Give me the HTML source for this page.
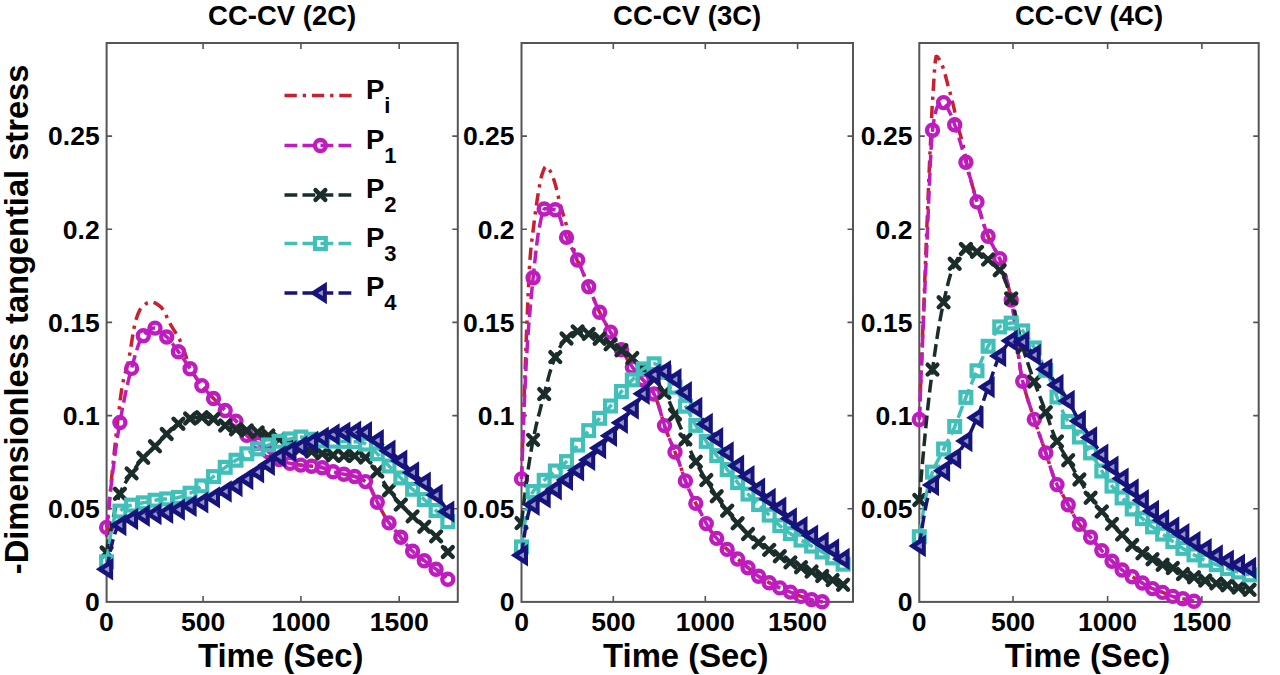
<!DOCTYPE html><html><head><meta charset="utf-8"><style>html,body{margin:0;padding:0;background:#fff;overflow:hidden}svg{display:block}text{font-family:"Liberation Sans",sans-serif;font-weight:bold;fill:#000}</style></head><body>
<svg width="1280" height="675" viewBox="0 0 1280 675">
<rect width="1280" height="675" fill="#fff"/>
<rect x="106.6" y="43" width="351.2" height="558.9" fill="none" stroke="#555" stroke-width="2"/>
<path d="M203.1 601.9v-6M203.1 43v6M300.9 601.9v-6M300.9 43v6M399.2 601.9v-6M399.2 43v6M106.6 508.8h5.5M457.8 508.8h-5.5M106.6 415.6h5.5M457.8 415.6h-5.5M106.6 322.4h5.5M457.8 322.4h-5.5M106.6 229.3h5.5M457.8 229.3h-5.5M106.6 136.1h5.5M457.8 136.1h-5.5" stroke="#555" stroke-width="1.6" fill="none"/>
<g><polyline points="106.6,536.7 107.6,523.5 108.7,510.7 109.7,498.5 110.8,487.1 111.8,476.2 112.9,465.6 113.9,455.5 115,445.7 116,436.2 117.1,427 118.1,417.9 119.2,408.8 120.2,399.9 121.3,392 122.3,385.4 123.4,380.3 124.4,376 125.4,372.3 126.5,368.7 127.5,364.9 128.6,360.4 129.6,354.8 130.7,348.5 131.7,341.7 132.8,335.1 133.8,328.9 134.9,323.8 135.9,320 137,316.8 138,314 139.1,311.5 140.1,309.5 141.2,307.9 142.2,306.9 143.3,305.9 144.3,305 145.3,304.2 146.4,303.5 147.4,302.9 148.5,302.5 149.5,302.1 150.6,302 151.6,302 152.7,302.1 153.7,302.4 154.8,302.9 155.8,303.4 156.9,304 157.9,304.7 159,305.5 160,306.3 161.1,307.1 162.1,308.4 163.1,309.9 164.2,311.7 165.2,313.7 166.3,315.8 167.3,318 168.4,320.2 169.4,322.3 170.5,324.3 171.5,326.2 172.6,327.9 173.6,329.6 174.7,331.3 175.7,332.9 176.8,334.6 177.8,336.3 178.9,338.2 179.9,340.2 180.9,342.5 182,344.9 183,347.6 184.1,350.5 185.1,353.6 186.2,356.9 187.2,360.3 188.3,363.9 189.3,367.5 190.6,369.4 191.9,371.4 193.2,373.4 194.5,375.3 195.8,377.3 197.1,379.2 198.4,381.1 199.7,382.9 201,384.6 202.3,386.2 203.6,387.7 204.8,389.2 206.1,390.6 207.4,392 208.7,393.4 210,394.8 211.3,396.1 212.6,397.5 213.9,398.9 215.2,400.2 216.5,401.6 217.8,402.9 219.1,404.3 220.4,405.6 221.7,406.9 223,408.2 224.2,409.6 225.5,410.9 226.8,412.1 228.1,413.4 229.4,414.6 230.7,415.8 232,417 233.3,418.3 234.6,419.6 235.9,420.9 237.2,422.4 238.5,424 239.8,425.7 241.1,427.6 242.3,429.5 243.6,431.4 244.9,433.2 246.2,434.8 247.5,436.1 248.8,437.3 250.1,438.3 251.4,439.2 252.7,440.1 254,440.9 255.3,441.7 256.6,442.6 257.9,443.4 259.2,444.3 260.5,445.3 261.7,446.3 263,447.3 264.3,448.4 265.6,449.4 266.9,450.5 268.2,451.5 269.5,452.5 270.8,453.5 272.1,454.5 273.4,455.4 274.7,456.4 276,457.3 277.3,458.3 278.6,459.2 279.9,460 281.1,460.8 282.4,461.4 283.7,461.9 285,462.2 286.3,462.6 287.6,462.9 288.9,463.1 290.2,463.4 291.5,463.6 292.8,463.8 294.1,464.1 295.4,464.3 296.7,464.5 298,464.7 299.3,464.9 300.5,465 301.8,465.2 303.1,465.4 304.4,465.5 305.7,465.7 307,465.8 308.3,465.9 309.6,466 310.9,466.1 312.2,466.2 313.5,466.3 314.8,466.4 316.1,466.6 317.4,466.7 318.6,466.8 319.9,467 321.2,467.3 322.5,467.7 323.8,468.2 325.1,468.7 326.4,469.3 327.7,469.9 329,470.3 330.3,470.8 331.6,471.2 332.9,471.6 334.2,472 335.5,472.3 336.8,472.7 338,473 339.3,473.3 340.6,473.6 341.9,473.9 343.2,474.1 344.5,474.3 345.8,474.6 347.1,474.8 348.4,475 349.7,475.3 351,475.5 352.3,475.8 353.6,476.2 354.9,476.5 356.2,476.9 357.4,477.4 358.7,477.9 360,478.4 361.3,479.1 362.6,479.8 363.9,480.5 365.2,481.4 366.5,482.3 367.8,483.6 369.1,485.4 370.4,487.6 371.7,490.2 373,493 374.3,495.8 375.6,498.6 376.8,501.3 378.1,503.8 379.4,506.2 380.7,508.7 382,511.2 383.3,513.7 384.6,516 385.9,518.2 387.2,520.3 388.5,522.1 389.8,523.9 391.1,525.6 392.4,527.2 393.7,528.7 394.9,530.3 396.2,531.8 397.5,533.3 398.8,534.9 400.1,536.5 401.4,538.1 402.7,539.7 404,541.4 405.3,543.1 406.6,544.7 407.9,546.2 409.2,547.7 410.5,549.2 411.8,550.5 413.1,551.7 414.3,552.9 415.6,554 416.9,555.1 418.2,556.1 419.5,557.1 420.8,558.1 422.1,559.1 423.4,560 424.7,561 426,562 427.3,562.9 428.6,563.9 429.9,564.8 431.2,565.6 432.5,566.5 433.7,567.5 435,568.4 436.3,569.4 437.6,570.4 438.9,571.4 440.2,572.5 441.5,573.6 442.8,574.7 444.1,575.9 445.4,577 446.7,578.2 457.8,587.9" fill="none" stroke="#c8202e" stroke-width="3.5" stroke-dasharray="12.3 5.9 3.3 5.9"/><polyline points="106.6,527.4 107.7,516.5 108.9,505.8 110,495.5 111.1,485.5 112.3,475.9 113.4,466.7 114.6,457.8 115.7,449.4 116.8,441.5 118,434 119.1,427.1 120.2,420.5 121.4,414.1 122.5,408 123.7,402.2 124.8,396.6 125.9,391.3 127.1,386.2 128.2,381.4 129.3,376.8 130.5,372.4 131.6,368.2 132.8,364 133.9,359.8 135,355.7 136.2,351.8 137.3,348.2 138.4,344.9 139.6,341.9 140.7,339.5 141.9,337.6 143,336.1 144.1,334.8 145.3,333.5 146.4,332.3 147.5,331.3 148.7,330.3 149.8,329.5 151,328.8 152.1,328.4 153.2,328.1 154.4,328.1 155.5,328.2 156.6,328.7 157.8,329.3 158.9,330 160.1,330.9 161.2,331.9 162.3,332.9 163.5,334 164.6,335 165.7,336.1 166.9,337.1 168,338.3 169.2,339.6 170.3,340.9 171.4,342.3 172.6,343.8 173.7,345.4 174.8,346.9 176,348.5 177.1,350 178.3,351.6 179.4,353.1 180.5,354.7 181.7,356.3 182.8,358 183.9,359.6 185.1,361.3 186.2,363 187.4,364.6 188.5,366.3 189.6,368 190.8,369.7 191.9,371.4 193,373.1 194.2,374.9 195.3,376.6 196.5,378.3 197.6,380 198.7,381.6 199.9,383.2 201,384.6 202.1,386 203.3,387.4 204.4,388.7 205.6,390 206.7,391.2 207.8,392.5 209,393.7 210.1,394.9 211.2,396.1 212.4,397.2 213.5,398.5 214.7,399.7 215.8,400.9 216.9,402.1 218.1,403.2 219.2,404.4 220.3,405.6 221.5,406.7 222.6,407.9 223.8,409.1 224.9,410.2 226,411.4 227.2,412.5 228.3,413.6 229.4,414.6 230.6,415.7 231.7,416.8 232.8,417.9 234,419 235.1,420.1 236.3,421.3 237.4,422.6 238.5,424 239.7,425.6 240.8,427.3 241.9,428.9 243.1,430.6 244.2,432.2 245.4,433.8 246.5,435.1 247.6,436.2 248.8,437.2 249.9,438.1 251,439 252.2,439.8 253.3,440.5 254.5,441.2 255.6,441.9 256.7,442.7 257.9,443.4 259,444.2 260.1,445.1 261.3,445.9 262.4,446.8 263.6,447.8 264.7,448.7 265.8,449.6 267,450.5 268.1,451.4 269.2,452.3 270.4,453.2 271.5,454.1 272.7,454.9 273.8,455.7 274.9,456.5 276.1,457.4 277.2,458.2 278.3,459 279.5,459.8 280.6,460.5 281.8,461.1 282.9,461.6 284,461.9 285.2,462.3 286.3,462.6 287.4,462.8 288.6,463.1 289.7,463.3 290.9,463.5 292,463.7 293.1,463.9 294.3,464.1 295.4,464.3 296.5,464.5 297.7,464.6 298.8,464.8 300,465 301.1,465.1 302.2,465.3 303.4,465.4 304.5,465.5 305.6,465.7 306.8,465.8 307.9,465.9 309.1,466 310.2,466.1 311.3,466.2 312.5,466.3 313.6,466.3 314.7,466.4 315.9,466.5 317,466.7 318.2,466.8 319.3,466.9 320.4,467.1 321.6,467.4 322.7,467.8 323.8,468.2 325,468.7 326.1,469.2 327.3,469.7 328.4,470.1 329.5,470.5 330.7,470.9 331.8,471.3 332.9,471.6 334.1,471.9 335.2,472.3 336.4,472.6 337.5,472.9 338.6,473.2 339.8,473.4 340.9,473.7 342,473.9 343.2,474.1 344.3,474.3 345.5,474.5 346.6,474.7 347.7,474.9 348.9,475.1 350,475.3 351.1,475.6 352.3,475.8 353.4,476.1 354.6,476.4 355.7,476.8 356.8,477.2 358,477.6 359.1,478 360.2,478.5 361.4,479.1 362.5,479.7 363.6,480.4 364.8,481.1 365.9,481.9 367.1,482.8 368.2,484.1 369.3,485.8 370.5,487.8 371.6,490.1 372.7,492.5 373.9,495 375,497.5 376.2,499.9 377.3,502.2 378.4,504.3 379.6,506.5 380.7,508.7 381.8,510.9 383,513.1 384.1,515.2 385.3,517.2 386.4,519 387.5,520.8 388.7,522.4 389.8,523.9 390.9,525.4 392.1,526.8 393.2,528.2 394.4,529.6 395.5,530.9 396.6,532.2 397.8,533.6 398.9,535 400,536.4 401.2,537.8 402.3,539.2 403.5,540.7 404.6,542.2 405.7,543.6 406.9,545 408,546.4 409.1,547.7 410.3,549 411.4,550.1 412.6,551.2 413.7,552.3 414.8,553.3 416,554.3 417.1,555.2 418.2,556.1 419.4,557 420.5,557.9 421.7,558.7 422.8,559.6 423.9,560.4 425.1,561.3 426.2,562.1 427.3,563 428.5,563.8 429.6,564.6 430.8,565.4 431.9,566.2 433,566.9 434.2,567.8 435.3,568.6 436.4,569.4 437.6,570.3 438.7,571.3 439.9,572.2 441,573.2 442.1,574.1 443.3,575.1 444.4,576.2 445.5,577.2 446.7,578.2" fill="none" stroke="#bf1cc0" stroke-width="3.5" stroke-dasharray="12.8 5.2"/><circle cx="106.6" cy="527.4" r="5.5" fill="none" stroke="#bf1cc0" stroke-width="4.4"/><circle cx="119.9" cy="422.6" r="5.5" fill="none" stroke="#bf1cc0" stroke-width="4.4"/><circle cx="131.6" cy="368.4" r="5.5" fill="none" stroke="#bf1cc0" stroke-width="4.4"/><circle cx="143.3" cy="335.8" r="5.5" fill="none" stroke="#bf1cc0" stroke-width="4.4"/><circle cx="155" cy="328.1" r="5.5" fill="none" stroke="#bf1cc0" stroke-width="4.4"/><circle cx="166.7" cy="337" r="5.5" fill="none" stroke="#bf1cc0" stroke-width="4.4"/><circle cx="178.4" cy="351.8" r="5.5" fill="none" stroke="#bf1cc0" stroke-width="4.4"/><circle cx="190.1" cy="368.7" r="5.5" fill="none" stroke="#bf1cc0" stroke-width="4.4"/><circle cx="201.8" cy="385.6" r="5.5" fill="none" stroke="#bf1cc0" stroke-width="4.4"/><circle cx="213.5" cy="398.5" r="5.5" fill="none" stroke="#bf1cc0" stroke-width="4.4"/><circle cx="225.2" cy="410.5" r="5.5" fill="none" stroke="#bf1cc0" stroke-width="4.4"/><circle cx="236" cy="421.1" r="5.5" fill="none" stroke="#bf1cc0" stroke-width="4.4"/><circle cx="246.8" cy="435.4" r="5.5" fill="none" stroke="#bf1cc0" stroke-width="4.4"/><circle cx="257.6" cy="443.2" r="5.5" fill="none" stroke="#bf1cc0" stroke-width="4.4"/><circle cx="268.4" cy="451.7" r="5.5" fill="none" stroke="#bf1cc0" stroke-width="4.4"/><circle cx="279.2" cy="459.6" r="5.5" fill="none" stroke="#bf1cc0" stroke-width="4.4"/><circle cx="290" cy="463.4" r="5.5" fill="none" stroke="#bf1cc0" stroke-width="4.4"/><circle cx="300.8" cy="465.1" r="5.5" fill="none" stroke="#bf1cc0" stroke-width="4.4"/><circle cx="311.6" cy="466.2" r="5.5" fill="none" stroke="#bf1cc0" stroke-width="4.4"/><circle cx="322.3" cy="467.7" r="5.5" fill="none" stroke="#bf1cc0" stroke-width="4.4"/><circle cx="333.1" cy="471.7" r="5.5" fill="none" stroke="#bf1cc0" stroke-width="4.4"/><circle cx="343.9" cy="474.2" r="5.5" fill="none" stroke="#bf1cc0" stroke-width="4.4"/><circle cx="354.7" cy="476.5" r="5.5" fill="none" stroke="#bf1cc0" stroke-width="4.4"/><circle cx="365.5" cy="481.6" r="5.5" fill="none" stroke="#bf1cc0" stroke-width="4.4"/><circle cx="377.3" cy="502.2" r="5.5" fill="none" stroke="#bf1cc0" stroke-width="4.4"/><circle cx="389" cy="522.9" r="5.5" fill="none" stroke="#bf1cc0" stroke-width="4.4"/><circle cx="400.8" cy="537.3" r="5.5" fill="none" stroke="#bf1cc0" stroke-width="4.4"/><circle cx="412.6" cy="551.3" r="5.5" fill="none" stroke="#bf1cc0" stroke-width="4.4"/><circle cx="424.3" cy="560.7" r="5.5" fill="none" stroke="#bf1cc0" stroke-width="4.4"/><circle cx="436.1" cy="569.2" r="5.5" fill="none" stroke="#bf1cc0" stroke-width="4.4"/><circle cx="447.8" cy="579.3" r="5.5" fill="none" stroke="#bf1cc0" stroke-width="4.4"/><polyline points="106.6,552.5 107.7,546 108.9,539.6 110,533.5 111.1,527.6 112.3,522 113.4,516.8 114.6,511.8 115.7,507.2 116.8,503 118,499.2 119.1,495.8 120.2,492.9 121.4,490.3 122.5,487.9 123.7,485.7 124.8,483.7 125.9,481.8 127.1,480 128.2,478.3 129.3,476.7 130.5,475 131.6,473.3 132.8,471.6 133.9,469.9 135,468.3 136.2,466.7 137.3,465.1 138.4,463.6 139.6,462.2 140.7,460.8 141.9,459.4 143,458.1 144.1,456.9 145.3,455.7 146.4,454.5 147.5,453.4 148.7,452.4 149.8,451.3 151,450.2 152.1,449.2 153.2,448.1 154.4,446.9 155.5,445.8 156.6,444.6 157.8,443.4 158.9,442.2 160.1,440.9 161.2,439.7 162.3,438.5 163.5,437.3 164.6,436.1 165.7,435 166.9,433.9 168,432.7 169.2,431.6 170.3,430.5 171.4,429.4 172.6,428.3 173.7,427.3 174.8,426.3 176,425.3 177.1,424.5 178.3,423.8 179.4,423.1 180.5,422.4 181.7,421.7 182.8,421.1 183.9,420.5 185.1,419.9 186.2,419.4 187.4,419.1 188.5,418.7 189.6,418.5 190.8,418.4 191.9,418.2 193,418 194.2,417.9 195.3,417.7 196.5,417.6 197.6,417.5 198.7,417.4 199.9,417.3 201,417.2 202.1,417.2 203.3,417.1 204.4,417.1 205.6,417.1 206.7,417.1 207.8,417.3 209,417.5 210.1,417.8 211.2,418.2 212.4,418.6 213.5,419 214.7,419.5 215.8,420 216.9,420.6 218.1,421.1 219.2,421.6 220.3,422.1 221.5,422.8 222.6,423.6 223.8,424.4 224.9,425.3 226,426.1 227.2,426.9 228.3,427.5 229.4,428.1 230.6,428.5 231.7,428.8 232.8,429 234,429.1 235.1,429.3 236.3,429.4 237.4,429.5 238.5,429.6 239.7,429.8 240.8,429.9 241.9,430 243.1,430.1 244.2,430.3 245.4,430.4 246.5,430.5 247.6,430.6 248.8,430.8 249.9,430.9 251,431.1 252.2,431.2 253.3,431.4 254.5,431.6 255.6,431.9 256.7,432.2 257.9,432.5 259,432.8 260.1,433.2 261.3,433.5 262.4,433.9 263.6,434.2 264.7,434.6 265.8,434.9 267,435.2 268.1,435.5 269.2,435.8 270.4,436.1 271.5,436.4 272.7,436.8 273.8,437.1 274.9,437.4 276.1,437.8 277.2,438.2 278.3,438.6 279.5,439.1 280.6,439.5 281.8,440 282.9,440.5 284,441 285.2,441.5 286.3,442 287.4,442.6 288.6,443.1 289.7,443.6 290.9,444 292,444.5 293.1,444.9 294.3,445.4 295.4,445.9 296.5,446.4 297.7,446.8 298.8,447.3 300,447.8 301.1,448.2 302.2,448.7 303.4,449.1 304.5,449.5 305.6,449.9 306.8,450.3 307.9,450.6 309.1,450.9 310.2,451.2 311.3,451.5 312.5,451.7 313.6,452 314.7,452.2 315.9,452.4 317,452.7 318.2,452.9 319.3,453.1 320.4,453.3 321.6,453.5 322.7,453.7 323.8,453.8 325,454 326.1,454.2 327.3,454.4 328.4,454.6 329.5,454.7 330.7,454.9 331.8,455.1 332.9,455.2 334.1,455.3 335.2,455.4 336.4,455.5 337.5,455.6 338.6,455.7 339.8,455.7 340.9,455.7 342,455.7 343.2,455.8 344.3,455.8 345.5,455.8 346.6,455.8 347.7,455.8 348.9,455.8 350,455.8 351.1,455.8 352.3,455.8 353.4,455.9 354.6,455.9 355.7,455.9 356.8,455.9 358,455.9 359.1,456 360.2,456 361.4,456.1 362.5,456.4 363.6,456.8 364.8,457.3 365.9,457.8 367.1,458.5 368.2,459.2 369.3,460 370.5,461.2 371.6,462.7 372.7,464.3 373.9,466.1 375,468 376.2,469.8 377.3,471.6 378.4,473.3 379.6,475.1 380.7,476.9 381.8,478.8 383,480.7 384.1,482.6 385.3,484.5 386.4,486.3 387.5,488 388.7,489.7 389.8,491.2 390.9,492.7 392.1,494.2 393.2,495.7 394.4,497.1 395.5,498.5 396.6,499.9 397.8,501.2 398.9,502.5 400,503.8 401.2,505 402.3,506.3 403.5,507.5 404.6,508.7 405.7,509.8 406.9,511 408,512.1 409.1,513.2 410.3,514.3 411.4,515.4 412.6,516.4 413.7,517.5 414.8,518.5 416,519.5 417.1,520.5 418.2,521.5 419.4,522.5 420.5,523.5 421.7,524.4 422.8,525.4 423.9,526.3 425.1,527.3 426.2,528.3 427.3,529.2 428.5,530.1 429.6,531 430.8,531.9 431.9,532.8 433,533.7 434.2,534.7 435.3,535.6 436.4,536.7 437.6,537.8 438.7,539 439.9,540.3 441,541.8 442.1,543.3 443.3,544.9 444.4,546.6 445.5,548.3 446.7,550.1" fill="none" stroke="#1a2d2b" stroke-width="3.5" stroke-dasharray="12.8 5.2"/><path d="M101.7 547.6l9.8 9.8M101.7 557.4l9.8 -9.8" stroke="#1a2d2b" stroke-width="4.4" stroke-linecap="round" fill="none"/><path d="M115 488.9l9.8 9.8M115 498.7l9.8 -9.8" stroke="#1a2d2b" stroke-width="4.4" stroke-linecap="round" fill="none"/><path d="M126.7 468.5l9.8 9.8M126.7 478.3l9.8 -9.8" stroke="#1a2d2b" stroke-width="4.4" stroke-linecap="round" fill="none"/><path d="M138.4 452.9l9.8 9.8M138.4 462.7l9.8 -9.8" stroke="#1a2d2b" stroke-width="4.4" stroke-linecap="round" fill="none"/><path d="M150.1 441.4l9.8 9.8M150.1 451.2l9.8 -9.8" stroke="#1a2d2b" stroke-width="4.4" stroke-linecap="round" fill="none"/><path d="M161.8 429.1l9.8 9.8M161.8 438.9l9.8 -9.8" stroke="#1a2d2b" stroke-width="4.4" stroke-linecap="round" fill="none"/><path d="M173.5 418.8l9.8 9.8M173.5 428.6l9.8 -9.8" stroke="#1a2d2b" stroke-width="4.4" stroke-linecap="round" fill="none"/><path d="M185.2 413.6l9.8 9.8M185.2 423.4l9.8 -9.8" stroke="#1a2d2b" stroke-width="4.4" stroke-linecap="round" fill="none"/><path d="M196.9 412.3l9.8 9.8M196.9 422.1l9.8 -9.8" stroke="#1a2d2b" stroke-width="4.4" stroke-linecap="round" fill="none"/><path d="M208.6 414.1l9.8 9.8M208.6 423.9l9.8 -9.8" stroke="#1a2d2b" stroke-width="4.4" stroke-linecap="round" fill="none"/><path d="M220.3 420.6l9.8 9.8M220.3 430.4l9.8 -9.8" stroke="#1a2d2b" stroke-width="4.4" stroke-linecap="round" fill="none"/><path d="M231.1 424.5l9.8 9.8M231.1 434.3l9.8 -9.8" stroke="#1a2d2b" stroke-width="4.4" stroke-linecap="round" fill="none"/><path d="M241.9 425.6l9.8 9.8M241.9 435.4l9.8 -9.8" stroke="#1a2d2b" stroke-width="4.4" stroke-linecap="round" fill="none"/><path d="M252.7 427.5l9.8 9.8M252.7 437.3l9.8 -9.8" stroke="#1a2d2b" stroke-width="4.4" stroke-linecap="round" fill="none"/><path d="M263.5 430.7l9.8 9.8M263.5 440.5l9.8 -9.8" stroke="#1a2d2b" stroke-width="4.4" stroke-linecap="round" fill="none"/><path d="M274.3 434.1l9.8 9.8M274.3 443.9l9.8 -9.8" stroke="#1a2d2b" stroke-width="4.4" stroke-linecap="round" fill="none"/><path d="M285.1 438.8l9.8 9.8M285.1 448.6l9.8 -9.8" stroke="#1a2d2b" stroke-width="4.4" stroke-linecap="round" fill="none"/><path d="M295.9 443.2l9.8 9.8M295.9 453l9.8 -9.8" stroke="#1a2d2b" stroke-width="4.4" stroke-linecap="round" fill="none"/><path d="M306.7 446.6l9.8 9.8M306.7 456.4l9.8 -9.8" stroke="#1a2d2b" stroke-width="4.4" stroke-linecap="round" fill="none"/><path d="M317.4 448.7l9.8 9.8M317.4 458.5l9.8 -9.8" stroke="#1a2d2b" stroke-width="4.4" stroke-linecap="round" fill="none"/><path d="M328.2 450.3l9.8 9.8M328.2 460.1l9.8 -9.8" stroke="#1a2d2b" stroke-width="4.4" stroke-linecap="round" fill="none"/><path d="M339 450.9l9.8 9.8M339 460.7l9.8 -9.8" stroke="#1a2d2b" stroke-width="4.4" stroke-linecap="round" fill="none"/><path d="M349.8 451l9.8 9.8M349.8 460.8l9.8 -9.8" stroke="#1a2d2b" stroke-width="4.4" stroke-linecap="round" fill="none"/><path d="M360.6 452.7l9.8 9.8M360.6 462.5l9.8 -9.8" stroke="#1a2d2b" stroke-width="4.4" stroke-linecap="round" fill="none"/><path d="M372.4 466.6l9.8 9.8M372.4 476.4l9.8 -9.8" stroke="#1a2d2b" stroke-width="4.4" stroke-linecap="round" fill="none"/><path d="M384.1 485.3l9.8 9.8M384.1 495.1l9.8 -9.8" stroke="#1a2d2b" stroke-width="4.4" stroke-linecap="round" fill="none"/><path d="M395.9 499.7l9.8 9.8M395.9 509.5l9.8 -9.8" stroke="#1a2d2b" stroke-width="4.4" stroke-linecap="round" fill="none"/><path d="M407.7 511.5l9.8 9.8M407.7 521.3l9.8 -9.8" stroke="#1a2d2b" stroke-width="4.4" stroke-linecap="round" fill="none"/><path d="M419.4 521.8l9.8 9.8M419.4 531.6l9.8 -9.8" stroke="#1a2d2b" stroke-width="4.4" stroke-linecap="round" fill="none"/><path d="M431.2 531.5l9.8 9.8M431.2 541.3l9.8 -9.8" stroke="#1a2d2b" stroke-width="4.4" stroke-linecap="round" fill="none"/><path d="M442.9 547.1l9.8 9.8M442.9 556.9l9.8 -9.8" stroke="#1a2d2b" stroke-width="4.4" stroke-linecap="round" fill="none"/><polyline points="106.6,561.8 107.7,554 108.9,546.2 110,538.8 111.1,532.1 112.3,526.1 113.4,521.3 114.6,517.8 115.7,515.8 116.8,514.3 118,513 119.1,511.8 120.2,510.8 121.4,509.8 122.5,509 123.7,508.3 124.8,507.6 125.9,507.1 127.1,506.6 128.2,506.1 129.3,505.7 130.5,505.4 131.6,505.1 132.8,504.8 133.9,504.5 135,504.3 136.2,504.1 137.3,503.9 138.4,503.7 139.6,503.5 140.7,503.3 141.9,503.1 143,502.8 144.1,502.6 145.3,502.4 146.4,502.1 147.5,501.9 148.7,501.6 149.8,501.3 151,501.1 152.1,500.8 153.2,500.6 154.4,500.4 155.5,500.2 156.6,500 157.8,499.8 158.9,499.6 160.1,499.5 161.2,499.4 162.3,499.3 163.5,499.2 164.6,499.1 165.7,499 166.9,498.9 168,498.8 169.2,498.7 170.3,498.6 171.4,498.5 172.6,498.4 173.7,498.2 174.8,498.1 176,497.9 177.1,497.7 178.3,497.4 179.4,497.1 180.5,496.8 181.7,496.4 182.8,496 183.9,495.6 185.1,495.2 186.2,494.8 187.4,494.3 188.5,493.9 189.6,493.4 190.8,492.9 191.9,492.3 193,491.7 194.2,491.1 195.3,490.3 196.5,489.6 197.6,488.8 198.7,488 199.9,487.2 201,486.4 202.1,485.6 203.3,484.8 204.4,484 205.6,483.1 206.7,482.2 207.8,481.3 209,480.4 210.1,479.5 211.2,478.5 212.4,477.5 213.5,476.6 214.7,475.6 215.8,474.7 216.9,473.7 218.1,472.8 219.2,471.9 220.3,471 221.5,470.1 222.6,469.3 223.8,468.4 224.9,467.6 226,466.8 227.2,465.9 228.3,465.1 229.4,464.3 230.6,463.6 231.7,462.8 232.8,462.1 234,461.4 235.1,460.7 236.3,460 237.4,459.4 238.5,458.7 239.7,458.1 240.8,457.4 241.9,456.8 243.1,456.1 244.2,455.4 245.4,454.7 246.5,454 247.6,453.4 248.8,452.7 249.9,452.1 251,451.5 252.2,451 253.3,450.5 254.5,450 255.6,449.6 256.7,449.2 257.9,448.8 259,448.4 260.1,448 261.3,447.6 262.4,447.2 263.6,446.8 264.7,446.4 265.8,446 267,445.5 268.1,445 269.2,444.6 270.4,444.1 271.5,443.7 272.7,443.3 273.8,442.9 274.9,442.5 276.1,442.2 277.2,441.8 278.3,441.5 279.5,441.3 280.6,441 281.8,440.7 282.9,440.5 284,440.2 285.2,440 286.3,439.7 287.4,439.5 288.6,439.2 289.7,439 290.9,438.7 292,438.4 293.1,438.1 294.3,437.8 295.4,437.5 296.5,437.3 297.7,437.2 298.8,437.1 300,437 301.1,437.1 302.2,437.2 303.4,437.3 304.5,437.5 305.6,437.7 306.8,438 307.9,438.3 309.1,438.6 310.2,438.9 311.3,439.2 312.5,439.5 313.6,439.7 314.7,440 315.9,440.2 317,440.4 318.2,440.6 319.3,440.7 320.4,440.8 321.6,440.8 322.7,440.9 323.8,440.9 325,441 326.1,441 327.3,441 328.4,441.1 329.5,441.1 330.7,441.1 331.8,441.1 332.9,441.2 334.1,441.2 335.2,441.2 336.4,441.2 337.5,441.3 338.6,441.3 339.8,441.3 340.9,441.4 342,441.4 343.2,441.4 344.3,441.5 345.5,441.5 346.6,441.5 347.7,441.5 348.9,441.6 350,441.6 351.1,441.6 352.3,441.7 353.4,441.7 354.6,441.7 355.7,441.8 356.8,441.8 358,441.9 359.1,442 360.2,442 361.4,442.2 362.5,442.5 363.6,443 364.8,443.6 365.9,444.3 367.1,445.2 368.2,446 369.3,447 370.5,447.9 371.6,448.8 372.7,449.7 373.9,450.7 375,451.6 376.2,452.7 377.3,453.8 378.4,455 379.6,456.2 380.7,457.4 381.8,458.6 383,459.9 384.1,461.1 385.3,462.2 386.4,463.4 387.5,464.5 388.7,465.7 389.8,466.8 390.9,468 392.1,469.2 393.2,470.3 394.4,471.5 395.5,472.6 396.6,473.8 397.8,474.9 398.9,476 400,477.2 401.2,478.3 402.3,479.5 403.5,480.6 404.6,481.7 405.7,482.9 406.9,484 408,485.1 409.1,486.2 410.3,487.2 411.4,488.3 412.6,489.3 413.7,490.3 414.8,491.3 416,492.3 417.1,493.3 418.2,494.2 419.4,495.2 420.5,496.2 421.7,497.2 422.8,498.2 423.9,499.3 425.1,500.3 426.2,501.3 427.3,502.4 428.5,503.4 429.6,504.5 430.8,505.6 431.9,506.6 433,507.7 434.2,508.7 435.3,509.8 436.4,510.9 437.6,511.9 438.7,513 439.9,514.1 441,515.1 442.1,516.2 443.3,517.3 444.4,518.3 445.5,519.4 446.7,520.5" fill="none" stroke="#40c0b8" stroke-width="3.5" stroke-dasharray="12.8 5.2"/><rect x="101.2" y="556.4" width="10.8" height="10.8" fill="none" stroke="#40c0b8" stroke-width="4.2"/><rect x="114.5" y="505.7" width="10.8" height="10.8" fill="none" stroke="#40c0b8" stroke-width="4.2"/><rect x="126.2" y="499.7" width="10.8" height="10.8" fill="none" stroke="#40c0b8" stroke-width="4.2"/><rect x="137.9" y="497.4" width="10.8" height="10.8" fill="none" stroke="#40c0b8" stroke-width="4.2"/><rect x="149.6" y="494.8" width="10.8" height="10.8" fill="none" stroke="#40c0b8" stroke-width="4.2"/><rect x="161.3" y="493.5" width="10.8" height="10.8" fill="none" stroke="#40c0b8" stroke-width="4.2"/><rect x="173" y="492" width="10.8" height="10.8" fill="none" stroke="#40c0b8" stroke-width="4.2"/><rect x="184.7" y="487.8" width="10.8" height="10.8" fill="none" stroke="#40c0b8" stroke-width="4.2"/><rect x="196.4" y="480.5" width="10.8" height="10.8" fill="none" stroke="#40c0b8" stroke-width="4.2"/><rect x="208.1" y="471.2" width="10.8" height="10.8" fill="none" stroke="#40c0b8" stroke-width="4.2"/><rect x="219.8" y="461.9" width="10.8" height="10.8" fill="none" stroke="#40c0b8" stroke-width="4.2"/><rect x="230.6" y="454.8" width="10.8" height="10.8" fill="none" stroke="#40c0b8" stroke-width="4.2"/><rect x="241.4" y="448.4" width="10.8" height="10.8" fill="none" stroke="#40c0b8" stroke-width="4.2"/><rect x="252.2" y="443.5" width="10.8" height="10.8" fill="none" stroke="#40c0b8" stroke-width="4.2"/><rect x="263" y="439.5" width="10.8" height="10.8" fill="none" stroke="#40c0b8" stroke-width="4.2"/><rect x="273.8" y="435.9" width="10.8" height="10.8" fill="none" stroke="#40c0b8" stroke-width="4.2"/><rect x="284.6" y="433.5" width="10.8" height="10.8" fill="none" stroke="#40c0b8" stroke-width="4.2"/><rect x="295.4" y="431.6" width="10.8" height="10.8" fill="none" stroke="#40c0b8" stroke-width="4.2"/><rect x="306.2" y="433.8" width="10.8" height="10.8" fill="none" stroke="#40c0b8" stroke-width="4.2"/><rect x="316.9" y="435.5" width="10.8" height="10.8" fill="none" stroke="#40c0b8" stroke-width="4.2"/><rect x="327.7" y="435.8" width="10.8" height="10.8" fill="none" stroke="#40c0b8" stroke-width="4.2"/><rect x="338.5" y="436" width="10.8" height="10.8" fill="none" stroke="#40c0b8" stroke-width="4.2"/><rect x="349.3" y="436.3" width="10.8" height="10.8" fill="none" stroke="#40c0b8" stroke-width="4.2"/><rect x="360.1" y="438.7" width="10.8" height="10.8" fill="none" stroke="#40c0b8" stroke-width="4.2"/><rect x="371.9" y="448.4" width="10.8" height="10.8" fill="none" stroke="#40c0b8" stroke-width="4.2"/><rect x="383.6" y="460.6" width="10.8" height="10.8" fill="none" stroke="#40c0b8" stroke-width="4.2"/><rect x="395.4" y="472.5" width="10.8" height="10.8" fill="none" stroke="#40c0b8" stroke-width="4.2"/><rect x="407.2" y="483.9" width="10.8" height="10.8" fill="none" stroke="#40c0b8" stroke-width="4.2"/><rect x="418.9" y="494.2" width="10.8" height="10.8" fill="none" stroke="#40c0b8" stroke-width="4.2"/><rect x="430.7" y="505.1" width="10.8" height="10.8" fill="none" stroke="#40c0b8" stroke-width="4.2"/><rect x="442.4" y="516.2" width="10.8" height="10.8" fill="none" stroke="#40c0b8" stroke-width="4.2"/><polyline points="106.6,569.3 107.7,563.6 108.9,558 110,552.6 111.1,547.4 112.3,542.6 113.4,538.2 114.6,534.4 115.7,531.1 116.8,528.6 118,526.8 119.1,525.7 120.2,524.8 121.4,523.9 122.5,523.1 123.7,522.4 124.8,521.8 125.9,521.2 127.1,520.7 128.2,520.3 129.3,519.8 130.5,519.4 131.6,519 132.8,518.6 133.9,518.3 135,517.9 136.2,517.5 137.3,517.2 138.4,516.9 139.6,516.5 140.7,516.3 141.9,516 143,515.7 144.1,515.5 145.3,515.3 146.4,515.1 147.5,514.9 148.7,514.7 149.8,514.6 151,514.5 152.1,514.3 153.2,514.2 154.4,514.1 155.5,514 156.6,513.8 157.8,513.7 158.9,513.6 160.1,513.5 161.2,513.3 162.3,513.2 163.5,513.1 164.6,513 165.7,512.9 166.9,512.8 168,512.6 169.2,512.5 170.3,512.3 171.4,512.1 172.6,511.8 173.7,511.5 174.8,511.1 176,510.7 177.1,510.2 178.3,509.7 179.4,509.2 180.5,508.7 181.7,508.2 182.8,507.8 183.9,507.4 185.1,507.1 186.2,506.8 187.4,506.5 188.5,506.2 189.6,506 190.8,505.7 191.9,505.5 193,505.2 194.2,504.9 195.3,504.6 196.5,504.2 197.6,503.9 198.7,503.5 199.9,503.1 201,502.7 202.1,502.3 203.3,501.8 204.4,501.4 205.6,500.9 206.7,500.4 207.8,500 209,499.5 210.1,499 211.2,498.5 212.4,497.9 213.5,497.4 214.7,496.8 215.8,496.3 216.9,495.7 218.1,495.1 219.2,494.5 220.3,494 221.5,493.4 222.6,492.8 223.8,492.2 224.9,491.7 226,491.1 227.2,490.6 228.3,490 229.4,489.4 230.6,488.9 231.7,488.3 232.8,487.7 234,487.2 235.1,486.5 236.3,485.9 237.4,485.3 238.5,484.6 239.7,483.9 240.8,483.1 241.9,482.4 243.1,481.6 244.2,480.8 245.4,480.1 246.5,479.3 247.6,478.6 248.8,477.8 249.9,477.1 251,476.4 252.2,475.7 253.3,474.9 254.5,474.2 255.6,473.5 256.7,472.7 257.9,472 259,471.3 260.1,470.5 261.3,469.8 262.4,469 263.6,468.2 264.7,467.5 265.8,466.6 267,465.8 268.1,464.9 269.2,464.1 270.4,463.2 271.5,462.3 272.7,461.4 273.8,460.5 274.9,459.6 276.1,458.7 277.2,457.9 278.3,457.1 279.5,456.3 280.6,455.6 281.8,455 282.9,454.4 284,453.8 285.2,453.2 286.3,452.7 287.4,452.2 288.6,451.7 289.7,451.2 290.9,450.7 292,450.2 293.1,449.8 294.3,449.3 295.4,448.9 296.5,448.4 297.7,448 298.8,447.5 300,447.1 301.1,446.6 302.2,446.1 303.4,445.6 304.5,445.1 305.6,444.6 306.8,444.1 307.9,443.5 309.1,443 310.2,442.5 311.3,442 312.5,441.4 313.6,440.9 314.7,440.4 315.9,440 317,439.5 318.2,439 319.3,438.6 320.4,438.2 321.6,437.8 322.7,437.5 323.8,437.1 325,436.7 326.1,436.4 327.3,436 328.4,435.7 329.5,435.4 330.7,435 331.8,434.7 332.9,434.4 334.1,434.2 335.2,433.9 336.4,433.7 337.5,433.5 338.6,433.3 339.8,433.2 340.9,433 342,432.8 343.2,432.7 344.3,432.5 345.5,432.4 346.6,432.3 347.7,432.2 348.9,432.1 350,432 351.1,431.9 352.3,431.8 353.4,431.8 354.6,431.8 355.7,431.8 356.8,431.8 358,431.9 359.1,431.9 360.2,431.9 361.4,432 362.5,432.1 363.6,432.1 364.8,432.2 365.9,432.3 367.1,432.4 368.2,432.7 369.3,433.3 370.5,434.1 371.6,435 372.7,436 373.9,437.1 375,438.2 376.2,439.3 377.3,440.3 378.4,441.2 379.6,442.2 380.7,443.2 381.8,444.2 383,445.2 384.1,446.3 385.3,447.3 386.4,448.3 387.5,449.4 388.7,450.4 389.8,451.3 390.9,452.3 392.1,453.2 393.2,454.2 394.4,455.1 395.5,456.1 396.6,457 397.8,458 398.9,459 400,460 401.2,461 402.3,462.1 403.5,463.2 404.6,464.4 405.7,465.5 406.9,466.7 408,467.9 409.1,469.1 410.3,470.2 411.4,471.4 412.6,472.5 413.7,473.5 414.8,474.5 416,475.5 417.1,476.5 418.2,477.4 419.4,478.4 420.5,479.3 421.7,480.3 422.8,481.2 423.9,482.2 425.1,483.3 426.2,484.4 427.3,485.5 428.5,486.6 429.6,487.8 430.8,488.9 431.9,490.2 433,491.4 434.2,492.7 435.3,494 436.4,495.3 437.6,496.7 438.7,498.1 439.9,499.6 441,501.2 442.1,502.8 443.3,504.4 444.4,506.1 445.5,507.9 446.7,509.7" fill="none" stroke="#16147c" stroke-width="3.5" stroke-dasharray="12.8 5.2"/><path d="M95.8 569.3L113.1 558.1L113.1 580.5Z" fill="#16147c"/><path d="M104.2 569.3L109.1 566.2L109.1 572.4Z" fill="#fff" fill-opacity="0.55"/><path d="M109.1 525.1L126.4 513.9L126.4 536.3Z" fill="#16147c"/><path d="M117.5 525.1L122.3 521.9L122.3 528.2Z" fill="#fff" fill-opacity="0.55"/><path d="M120.8 519L138.1 507.8L138.1 530.2Z" fill="#16147c"/><path d="M129.2 519L134 515.9L134 522.2Z" fill="#fff" fill-opacity="0.55"/><path d="M132.5 515.7L149.8 504.5L149.8 526.9Z" fill="#16147c"/><path d="M140.9 515.7L145.7 512.5L145.7 518.8Z" fill="#fff" fill-opacity="0.55"/><path d="M144.2 514L161.5 502.8L161.5 525.2Z" fill="#16147c"/><path d="M152.6 514L157.5 510.9L157.5 517.2Z" fill="#fff" fill-opacity="0.55"/><path d="M155.9 512.8L173.2 501.6L173.2 524Z" fill="#16147c"/><path d="M164.3 512.8L169.2 509.6L169.2 515.9Z" fill="#fff" fill-opacity="0.55"/><path d="M167.6 509.6L184.9 498.4L184.9 520.8Z" fill="#16147c"/><path d="M176 509.6L180.9 506.5L180.9 512.8Z" fill="#fff" fill-opacity="0.55"/><path d="M179.3 505.9L196.6 494.7L196.6 517.1Z" fill="#16147c"/><path d="M187.7 505.9L192.6 502.7L192.6 509Z" fill="#fff" fill-opacity="0.55"/><path d="M191 502.4L208.3 491.2L208.3 513.6Z" fill="#16147c"/><path d="M199.4 502.4L204.3 499.3L204.3 505.5Z" fill="#fff" fill-opacity="0.55"/><path d="M202.7 497.4L220 486.2L220 508.6Z" fill="#16147c"/><path d="M211.1 497.4L216 494.3L216 500.5Z" fill="#fff" fill-opacity="0.55"/><path d="M214.4 491.5L231.7 480.3L231.7 502.7Z" fill="#16147c"/><path d="M222.9 491.5L227.7 488.4L227.7 494.6Z" fill="#fff" fill-opacity="0.55"/><path d="M225.2 486.1L242.5 474.9L242.5 497.3Z" fill="#16147c"/><path d="M233.6 486.1L238.5 482.9L238.5 489.2Z" fill="#fff" fill-opacity="0.55"/><path d="M236 479.1L253.3 467.9L253.3 490.3Z" fill="#16147c"/><path d="M244.4 479.1L249.3 476L249.3 482.3Z" fill="#fff" fill-opacity="0.55"/><path d="M246.8 472.2L264.1 461L264.1 483.4Z" fill="#16147c"/><path d="M255.2 472.2L260.1 469L260.1 475.3Z" fill="#fff" fill-opacity="0.55"/><path d="M257.6 464.7L274.9 453.5L274.9 475.9Z" fill="#16147c"/><path d="M266 464.7L270.9 461.6L270.9 467.9Z" fill="#fff" fill-opacity="0.55"/><path d="M268.4 456.5L285.7 445.3L285.7 467.7Z" fill="#16147c"/><path d="M276.8 456.5L281.7 453.4L281.7 459.7Z" fill="#fff" fill-opacity="0.55"/><path d="M279.2 451.1L296.5 439.9L296.5 462.3Z" fill="#16147c"/><path d="M287.6 451.1L292.4 447.9L292.4 454.2Z" fill="#fff" fill-opacity="0.55"/><path d="M290 446.7L307.3 435.5L307.3 457.9Z" fill="#16147c"/><path d="M298.4 446.7L303.2 443.6L303.2 449.9Z" fill="#fff" fill-opacity="0.55"/><path d="M300.8 441.9L318.1 430.7L318.1 453.1Z" fill="#16147c"/><path d="M309.2 441.9L314 438.7L314 445Z" fill="#fff" fill-opacity="0.55"/><path d="M311.5 437.6L328.8 426.4L328.8 448.8Z" fill="#16147c"/><path d="M320 437.6L324.8 434.5L324.8 440.7Z" fill="#fff" fill-opacity="0.55"/><path d="M322.3 434.4L339.6 423.2L339.6 445.6Z" fill="#16147c"/><path d="M330.8 434.4L335.6 431.3L335.6 437.5Z" fill="#fff" fill-opacity="0.55"/><path d="M333.1 432.6L350.4 421.4L350.4 443.8Z" fill="#16147c"/><path d="M341.6 432.6L346.4 429.5L346.4 435.7Z" fill="#fff" fill-opacity="0.55"/><path d="M343.9 431.8L361.2 420.6L361.2 443Z" fill="#16147c"/><path d="M352.3 431.8L357.2 428.7L357.2 434.9Z" fill="#fff" fill-opacity="0.55"/><path d="M354.7 432.3L372 421.1L372 443.5Z" fill="#16147c"/><path d="M363.1 432.3L368 429.1L368 435.4Z" fill="#fff" fill-opacity="0.55"/><path d="M366.5 440.3L383.8 429.1L383.8 451.5Z" fill="#16147c"/><path d="M374.9 440.3L379.7 437.2L379.7 443.4Z" fill="#fff" fill-opacity="0.55"/><path d="M378.2 450.7L395.5 439.5L395.5 461.9Z" fill="#16147c"/><path d="M386.7 450.7L391.5 447.5L391.5 453.8Z" fill="#fff" fill-opacity="0.55"/><path d="M390 460.7L407.3 449.5L407.3 471.9Z" fill="#16147c"/><path d="M398.4 460.7L403.3 457.5L403.3 463.8Z" fill="#fff" fill-opacity="0.55"/><path d="M401.8 472.5L419.1 461.3L419.1 483.7Z" fill="#16147c"/><path d="M410.2 472.5L415 469.3L415 475.6Z" fill="#fff" fill-opacity="0.55"/><path d="M413.5 482.6L430.8 471.4L430.8 493.8Z" fill="#16147c"/><path d="M421.9 482.6L426.8 479.5L426.8 485.7Z" fill="#fff" fill-opacity="0.55"/><path d="M425.3 494.9L442.6 483.7L442.6 506.1Z" fill="#16147c"/><path d="M433.7 494.9L438.6 491.8L438.6 498Z" fill="#fff" fill-opacity="0.55"/><path d="M437 511.6L454.3 500.4L454.3 522.8Z" fill="#16147c"/><path d="M445.5 511.6L450.3 508.4L450.3 514.7Z" fill="#fff" fill-opacity="0.55"/></g>
<text x="106.4" y="631" font-size="26.5" text-anchor="middle">0</text>
<text x="203.1" y="631" font-size="26.5" text-anchor="middle">500</text>
<text x="300.9" y="631" font-size="26.5" text-anchor="middle">1000</text>
<text x="399.2" y="631" font-size="26.5" text-anchor="middle">1500</text>
<text x="99.7" y="611.2" font-size="26.5" text-anchor="end">0</text>
<text x="99.7" y="518" font-size="26.5" text-anchor="end">0.05</text>
<text x="99.7" y="424.9" font-size="26.5" text-anchor="end">0.1</text>
<text x="99.7" y="331.8" font-size="26.5" text-anchor="end">0.15</text>
<text x="99.7" y="238.6" font-size="26.5" text-anchor="end">0.2</text>
<text x="99.7" y="145.4" font-size="26.5" text-anchor="end">0.25</text>
<text x="282.2" y="24.5" font-size="27.5" text-anchor="middle">CC-CV (2C)</text>
<text x="280.7" y="667.3" font-size="34" text-anchor="middle" textLength="165.5" lengthAdjust="spacingAndGlyphs">Time (Sec)</text>
<rect x="521.5" y="43" width="331.5" height="558.9" fill="none" stroke="#555" stroke-width="2"/>
<path d="M613.3 601.9v-6M613.3 43v6M705.3 601.9v-6M705.3 43v6M797.6 601.9v-6M797.6 43v6M521.5 508.8h5.5M853 508.8h-5.5M521.5 415.6h5.5M853 415.6h-5.5M521.5 322.4h5.5M853 322.4h-5.5M521.5 229.3h5.5M853 229.3h-5.5M521.5 136.1h5.5M853 136.1h-5.5" stroke="#555" stroke-width="1.6" fill="none"/>
<g><polyline points="521.5,478.9 522.2,456 522.9,433.8 523.6,412.5 524.3,392.2 525,373 525.7,354.5 526.4,335.7 527.2,317.3 527.9,299.9 528.6,283.9 529.3,270.1 530,259 530.7,250.7 531.4,243.9 532.1,238.1 532.8,232.8 533.5,227.3 534.2,221.7 534.9,216.2 535.6,210.9 536.3,205.7 537,200.9 537.7,196.3 538.5,192 539.2,187.7 539.9,183.7 540.6,180 541.3,176.9 542,174.6 542.7,172.5 543.4,170.5 544.1,168.8 544.8,167.5 545.5,166.7 546.2,166.5 546.9,166.8 547.6,167.4 548.3,168.3 549,169.3 549.8,170.4 550.5,171.6 551.2,172.8 551.9,174.3 552.6,176.1 553.3,178.1 554,180.3 554.7,182.6 555.4,185 556.1,187.4 556.8,190.2 557.5,193.1 558.2,196.2 558.9,199.2 559.6,202.1 560.3,204.8 561.1,207.3 561.8,209.8 562.5,212.2 563.2,214.5 563.9,216.8 564.6,219.1 565.3,221.4 566,223.8 566.7,226.1 567.4,228.4 568.1,230.7 568.8,233 569.5,235.3 570.2,237.6 570.9,239.9 571.7,242.2 572.4,244.6 573.1,246.9 573.8,249.3 574.5,251.6 575.2,254 575.9,256.4 576.6,258.8 577.3,261.2 578.5,262.1 579.8,264.9 581,267.8 582.2,270.8 583.5,273.8 584.7,276.9 585.9,279.9 587.2,283 588.4,286 589.6,288.9 590.9,291.9 592.1,294.9 593.3,297.9 594.6,300.9 595.8,303.8 597,306.6 598.3,309.4 599.5,312 600.7,314.5 602,316.9 603.2,319.2 604.4,321.5 605.7,323.7 606.9,325.9 608.1,328 609.4,330.1 610.6,332.2 611.8,334.3 613.1,336.4 614.3,338.4 615.5,340.3 616.7,342.3 618,344.2 619.2,346.2 620.4,348.1 621.7,350.1 622.9,352.1 624.1,354.1 625.4,356.2 626.6,358.2 627.8,360.2 629.1,362.2 630.3,364.1 631.5,366 632.8,367.7 634,369.3 635.2,370.9 636.5,372.3 637.7,373.7 638.9,375.1 640.2,376.5 641.4,377.9 642.6,379.3 643.9,380.8 645.1,382.3 646.3,383.7 647.6,385.1 648.8,386.5 650,388 651.3,389.6 652.5,391.3 653.7,393.3 655,395.7 656.2,398.7 657.4,402.1 658.7,405.9 659.9,410 661.1,414.2 662.4,418.5 663.6,422.6 664.8,426.5 666.1,430.1 667.3,433.4 668.5,436.5 669.8,439.5 671,442.5 672.2,445.4 673.5,448.3 674.7,451.3 675.9,454.3 677.2,457.4 678.4,460.5 679.6,463.9 680.9,467.5 682.1,471.2 683.3,474.8 684.5,478.5 685.8,482 687,485.2 688.2,488.2 689.5,491 690.7,493.6 691.9,496.1 693.2,498.5 694.4,500.8 695.6,503.1 696.9,505.3 698.1,507.6 699.3,509.9 700.6,512.3 701.8,514.8 703,517.2 704.3,519.7 705.5,522.1 706.7,524.4 708,526.6 709.2,528.6 710.4,530.5 711.7,532.2 712.9,533.8 714.1,535.4 715.4,536.8 716.6,538.2 717.8,539.6 719.1,540.9 720.3,542.3 721.5,543.6 722.8,544.9 724,546.2 725.2,547.5 726.5,548.7 727.7,549.9 728.9,551.1 730.2,552.3 731.4,553.5 732.6,554.6 733.9,555.7 735.1,556.9 736.3,557.9 737.6,559 738.8,560 740,561.1 741.3,562.1 742.5,563.1 743.7,564.1 745,565.1 746.2,566.1 747.4,567.2 748.6,568.2 749.9,569.3 751.1,570.4 752.3,571.4 753.6,572.5 754.8,573.5 756,574.5 757.3,575.4 758.5,576.3 759.7,577.1 761,577.9 762.2,578.7 763.4,579.4 764.7,580.1 765.9,580.8 767.1,581.5 768.4,582.2 769.6,582.9 770.8,583.5 772.1,584.2 773.3,584.8 774.5,585.4 775.8,586 777,586.6 778.2,587.2 779.5,587.8 780.7,588.3 781.9,588.8 783.2,589.3 784.4,589.8 785.6,590.3 786.9,590.7 788.1,591.2 789.3,591.7 790.6,592.2 791.8,592.7 793,593.2 794.3,593.7 795.5,594.2 796.7,594.7 798,595.2 799.2,595.7 800.4,596.2 801.7,596.6 802.9,597 804.1,597.4 805.4,597.9 806.6,598.2 807.8,598.6 809.1,599 810.3,599.3 811.5,599.6 812.8,599.9 814,600.2 815.2,600.5 816.4,600.8 817.7,601 818.9,601.3 820.1,601.5 821.4,601.7 822.6,601.9" fill="none" stroke="#c8202e" stroke-width="3.5" stroke-dasharray="12.3 5.9 3.3 5.9"/><polyline points="521.5,478.9 522.5,450.9 523.5,424.3 524.5,399.8 525.5,377.7 526.5,358.5 527.5,342.5 528.5,328.3 529.6,315.4 530.6,303.8 531.6,293 532.6,282.9 533.6,273.2 534.6,263.6 535.6,254.3 536.6,245.5 537.6,237.8 538.6,231.3 539.6,226.1 540.6,221 541.6,216.4 542.6,212.5 543.7,209.8 544.7,208.8 545.7,208.8 546.7,208.8 547.7,208.9 548.7,209 549.7,209 550.7,209.1 551.7,209.3 552.7,209.4 553.7,209.6 554.7,209.7 555.7,209.9 556.7,210.6 557.8,212.1 558.8,214.4 559.8,217.2 560.8,220.3 561.8,223.7 562.8,227.1 563.8,230.4 564.8,233.4 565.8,235.9 566.8,238.1 567.8,240.3 568.8,242.4 569.8,244.4 570.8,246.4 571.9,248.4 572.9,250.4 573.9,252.3 574.9,254.3 575.9,256.4 576.9,258.5 577.9,260.7 578.9,262.9 579.9,265.2 580.9,267.6 581.9,270.1 582.9,272.5 583.9,275 584.9,277.5 586,280 587,282.5 588,284.9 589,287.3 590,289.7 591,292.2 592,294.6 593,297.1 594,299.5 595,302 596,304.3 597,306.7 598,308.9 599,311.1 600.1,313.1 601.1,315.2 602.1,317.1 603.1,319 604.1,320.9 605.1,322.7 606.1,324.5 607.1,326.2 608.1,328 609.1,329.7 610.1,331.4 611.1,333.2 612.1,334.8 613.1,336.5 614.1,338.2 615.2,339.8 616.2,341.4 617.2,343 618.2,344.6 619.2,346.1 620.2,347.7 621.2,349.3 622.2,350.9 623.2,352.6 624.2,354.2 625.2,355.9 626.2,357.6 627.2,359.2 628.2,360.9 629.3,362.5 630.3,364.1 631.3,365.6 632.3,367 633.3,368.4 634.3,369.7 635.3,370.9 636.3,372.1 637.3,373.3 638.3,374.4 639.3,375.6 640.3,376.7 641.3,377.8 642.3,379 643.4,380.2 644.4,381.4 645.4,382.6 646.4,383.7 647.4,384.9 648.4,386 649.4,387.2 650.4,388.4 651.4,389.8 652.4,391.2 653.4,392.8 654.4,394.6 655.4,396.8 656.4,399.3 657.5,402.2 658.5,405.3 659.5,408.6 660.5,412 661.5,415.5 662.5,418.9 663.5,422.3 664.5,425.5 665.5,428.6 666.5,431.3 667.5,434 668.5,436.5 669.5,439 670.5,441.4 671.6,443.8 672.6,446.2 673.6,448.6 674.6,451 675.6,453.4 676.6,455.9 677.6,458.5 678.6,461.1 679.6,463.9 680.6,466.8 681.6,469.8 682.6,472.8 683.6,475.8 684.6,478.7 685.7,481.6 686.7,484.3 687.7,486.9 688.7,489.2 689.7,491.4 690.7,493.6 691.7,495.6 692.7,497.6 693.7,499.5 694.7,501.4 695.7,503.2 696.7,505.1 697.7,506.9 698.7,508.8 699.8,510.7 700.8,512.7 701.8,514.7 702.8,516.7 703.8,518.7 704.8,520.7 705.8,522.7 706.8,524.5 707.8,526.3 708.8,528 709.8,529.6 710.8,531 711.8,532.4 712.8,533.7 713.8,535 714.9,536.2 715.9,537.4 716.9,538.5 717.9,539.7 718.9,540.8 719.9,541.8 720.9,542.9 721.9,544 722.9,545.1 723.9,546.1 724.9,547.2 725.9,548.2 726.9,549.2 727.9,550.2 729,551.2 730,552.1 731,553.1 732,554 733,555 734,555.9 735,556.8 736,557.7 737,558.5 738,559.4 739,560.2 740,561.1 741,561.9 742,562.7 743.1,563.6 744.1,564.4 745.1,565.2 746.1,566 747.1,566.9 748.1,567.7 749.1,568.6 750.1,569.5 751.1,570.4 752.1,571.2 753.1,572.1 754.1,572.9 755.1,573.7 756.1,574.5 757.2,575.3 758.2,576 759.2,576.7 760.2,577.4 761.2,578 762.2,578.6 763.2,579.3 764.2,579.8 765.2,580.4 766.2,581 767.2,581.6 768.2,582.1 769.2,582.7 770.2,583.2 771.3,583.7 772.3,584.3 773.3,584.8 774.3,585.3 775.3,585.8 776.3,586.3 777.3,586.8 778.3,587.2 779.3,587.7 780.3,588.1 781.3,588.6 782.3,589 783.3,589.4 784.3,589.8 785.4,590.2 786.4,590.5 787.4,590.9 788.4,591.3 789.4,591.7 790.4,592.1 791.4,592.5 792.4,592.9 793.4,593.3 794.4,593.8 795.4,594.2 796.4,594.6 797.4,595 798.4,595.4 799.5,595.8 800.5,596.2 801.5,596.5 802.5,596.9 803.5,597.2 804.5,597.6 805.5,597.9 806.5,598.2 807.5,598.5 808.5,598.8 809.5,599.1 810.5,599.4 811.5,599.6 812.5,599.9 813.5,600.1 814.6,600.3 815.6,600.6 816.6,600.8 817.6,601 818.6,601.2 819.6,601.4 820.6,601.6 821.6,601.7 822.6,601.9" fill="none" stroke="#bf1cc0" stroke-width="3.5" stroke-dasharray="12.8 5.2"/><circle cx="521.5" cy="478.9" r="5.5" fill="none" stroke="#bf1cc0" stroke-width="4.4"/><circle cx="533.1" cy="277.8" r="5.5" fill="none" stroke="#bf1cc0" stroke-width="4.4"/><circle cx="544.2" cy="209" r="5.5" fill="none" stroke="#bf1cc0" stroke-width="4.4"/><circle cx="555.3" cy="209.8" r="5.5" fill="none" stroke="#bf1cc0" stroke-width="4.4"/><circle cx="566.5" cy="237.4" r="5.5" fill="none" stroke="#bf1cc0" stroke-width="4.4"/><circle cx="577.6" cy="260" r="5.5" fill="none" stroke="#bf1cc0" stroke-width="4.4"/><circle cx="588.7" cy="286.7" r="5.5" fill="none" stroke="#bf1cc0" stroke-width="4.4"/><circle cx="599.6" cy="312.3" r="5.5" fill="none" stroke="#bf1cc0" stroke-width="4.4"/><circle cx="610.5" cy="332.1" r="5.5" fill="none" stroke="#bf1cc0" stroke-width="4.4"/><circle cx="621.4" cy="349.7" r="5.5" fill="none" stroke="#bf1cc0" stroke-width="4.4"/><circle cx="632.3" cy="367.1" r="5.5" fill="none" stroke="#bf1cc0" stroke-width="4.4"/><circle cx="643.2" cy="380" r="5.5" fill="none" stroke="#bf1cc0" stroke-width="4.4"/><circle cx="654.1" cy="394" r="5.5" fill="none" stroke="#bf1cc0" stroke-width="4.4"/><circle cx="664.5" cy="425.6" r="5.5" fill="none" stroke="#bf1cc0" stroke-width="4.4"/><circle cx="675" cy="452" r="5.5" fill="none" stroke="#bf1cc0" stroke-width="4.4"/><circle cx="685.4" cy="480.9" r="5.5" fill="none" stroke="#bf1cc0" stroke-width="4.4"/><circle cx="695.8" cy="503.4" r="5.5" fill="none" stroke="#bf1cc0" stroke-width="4.4"/><circle cx="706.3" cy="523.6" r="5.5" fill="none" stroke="#bf1cc0" stroke-width="4.4"/><circle cx="716.7" cy="538.4" r="5.5" fill="none" stroke="#bf1cc0" stroke-width="4.4"/><circle cx="727.2" cy="549.4" r="5.5" fill="none" stroke="#bf1cc0" stroke-width="4.4"/><circle cx="737.6" cy="559" r="5.5" fill="none" stroke="#bf1cc0" stroke-width="4.4"/><circle cx="748" cy="567.7" r="5.5" fill="none" stroke="#bf1cc0" stroke-width="4.4"/><circle cx="758.6" cy="576.3" r="5.5" fill="none" stroke="#bf1cc0" stroke-width="4.4"/><circle cx="769.2" cy="582.7" r="5.5" fill="none" stroke="#bf1cc0" stroke-width="4.4"/><circle cx="779.8" cy="587.9" r="5.5" fill="none" stroke="#bf1cc0" stroke-width="4.4"/><circle cx="790.4" cy="592.1" r="5.5" fill="none" stroke="#bf1cc0" stroke-width="4.4"/><circle cx="801" cy="596.4" r="5.5" fill="none" stroke="#bf1cc0" stroke-width="4.4"/><circle cx="811.6" cy="599.6" r="5.5" fill="none" stroke="#bf1cc0" stroke-width="4.4"/><circle cx="822.2" cy="601.8" r="5.5" fill="none" stroke="#bf1cc0" stroke-width="4.4"/><polyline points="521.5,523.1 522.6,513.7 523.6,504.6 524.7,495.8 525.8,487.2 526.9,479.1 527.9,471.2 529,463.8 530.1,456.9 531.2,450.4 532.2,444.4 533.3,438.8 534.4,433.6 535.5,428.7 536.5,424 537.6,419.5 538.7,415.3 539.8,411.1 540.8,407 541.9,403 543,398.9 544,394.8 545.1,390.6 546.2,386.4 547.3,382.2 548.3,378.1 549.4,374.1 550.5,370.4 551.6,367 552.6,363.9 553.7,361.1 554.8,358.4 555.9,355.9 556.9,353.4 558,351 559.1,348.8 560.1,346.8 561.2,344.9 562.3,343.3 563.4,341.9 564.4,340.6 565.5,339.5 566.6,338.3 567.7,337.2 568.7,336.2 569.8,335.2 570.9,334.3 572,333.5 573,332.8 574.1,332.2 575.2,331.7 576.3,331.5 577.3,331.4 578.4,331.4 579.5,331.5 580.5,331.7 581.6,331.9 582.7,332.1 583.8,332.4 584.8,332.7 585.9,333 587,333.3 588.1,333.7 589.1,334 590.2,334.4 591.3,334.7 592.4,335.1 593.4,335.6 594.5,336.1 595.6,336.6 596.7,337.1 597.7,337.7 598.8,338.3 599.9,338.9 600.9,339.5 602,340 603.1,340.6 604.2,341.2 605.2,341.7 606.3,342.2 607.4,342.8 608.5,343.3 609.5,343.8 610.6,344.3 611.7,344.9 612.8,345.4 613.8,346 614.9,346.6 616,347.1 617,347.7 618.1,348.4 619.2,349 620.3,349.6 621.3,350.3 622.4,350.9 623.5,351.6 624.6,352.3 625.6,353 626.7,353.8 627.8,354.5 628.9,355.3 629.9,356.1 631,357 632.1,357.9 633.2,358.8 634.2,359.8 635.3,360.8 636.4,361.9 637.4,363 638.5,364.1 639.6,365.2 640.7,366.3 641.7,367.4 642.8,368.4 643.9,369.5 645,370.5 646,371.5 647.1,372.5 648.2,373.4 649.3,374.4 650.3,375.4 651.4,376.5 652.5,377.6 653.6,378.7 654.6,379.8 655.7,381 656.8,382.3 657.8,383.5 658.9,384.8 660,386.2 661.1,387.6 662.1,389.1 663.2,390.7 664.3,392.3 665.4,394.1 666.4,396 667.5,398.1 668.6,400.2 669.7,402.5 670.7,404.8 671.8,407.2 672.9,409.6 673.9,412.1 675,414.6 676.1,417.1 677.2,419.5 678.2,422 679.3,424.5 680.4,427 681.5,429.6 682.5,432.3 683.6,435 684.7,437.6 685.8,440.2 686.8,442.8 687.9,445.2 689,447.5 690.1,449.9 691.1,452.1 692.2,454.4 693.3,456.6 694.3,458.8 695.4,460.9 696.5,463 697.6,465.1 698.6,467.1 699.7,469 700.8,471 701.9,472.8 702.9,474.7 704,476.4 705.1,478.2 706.2,479.9 707.2,481.6 708.3,483.3 709.4,485 710.5,486.6 711.5,488.3 712.6,490 713.7,491.7 714.7,493.3 715.8,495 716.9,496.6 718,498.2 719,499.8 720.1,501.4 721.2,502.9 722.3,504.4 723.3,505.8 724.4,507.2 725.5,508.6 726.6,510 727.6,511.3 728.7,512.6 729.8,513.9 730.8,515.2 731.9,516.5 733,517.8 734.1,519.1 735.1,520.4 736.2,521.7 737.3,523 738.4,524.2 739.4,525.5 740.5,526.7 741.6,527.9 742.7,529 743.7,530.1 744.8,531.2 745.9,532.2 747,533.2 748,534.1 749.1,535 750.2,535.9 751.2,536.8 752.3,537.7 753.4,538.5 754.5,539.4 755.5,540.2 756.6,541 757.7,541.9 758.8,542.7 759.8,543.4 760.9,544.2 762,545 763.1,545.8 764.1,546.5 765.2,547.2 766.3,548 767.4,548.7 768.4,549.4 769.5,550 770.6,550.7 771.6,551.4 772.7,552 773.8,552.7 774.9,553.3 775.9,554 777,554.6 778.1,555.2 779.2,555.9 780.2,556.5 781.3,557.2 782.4,557.8 783.5,558.5 784.5,559.1 785.6,559.7 786.7,560.4 787.7,561 788.8,561.6 789.9,562.1 791,562.7 792,563.2 793.1,563.8 794.2,564.3 795.3,564.7 796.3,565.2 797.4,565.7 798.5,566.2 799.6,566.6 800.6,567.1 801.7,567.5 802.8,568 803.9,568.4 804.9,568.9 806,569.3 807.1,569.8 808.1,570.2 809.2,570.6 810.3,571.1 811.4,571.5 812.4,571.9 813.5,572.4 814.6,572.8 815.7,573.2 816.7,573.7 817.8,574.1 818.9,574.6 820,575 821,575.5 822.1,575.9 823.2,576.4 824.3,576.8 825.3,577.3 826.4,577.7 827.5,578.1 828.5,578.5 829.6,578.9 830.7,579.3 831.8,579.7 832.8,580.1 833.9,580.5 835,581 836.1,581.4 837.1,581.8 838.2,582.3 839.3,582.8 840.4,583.3 841.4,583.8 842.5,584.4" fill="none" stroke="#1a2d2b" stroke-width="3.5" stroke-dasharray="12.8 5.2"/><path d="M516.6 518.2l9.8 9.8M516.6 528l9.8 -9.8" stroke="#1a2d2b" stroke-width="4.4" stroke-linecap="round" fill="none"/><path d="M528.2 435l9.8 9.8M528.2 444.8l9.8 -9.8" stroke="#1a2d2b" stroke-width="4.4" stroke-linecap="round" fill="none"/><path d="M539.3 389.2l9.8 9.8M539.3 399l9.8 -9.8" stroke="#1a2d2b" stroke-width="4.4" stroke-linecap="round" fill="none"/><path d="M550.4 352.2l9.8 9.8M550.4 362l9.8 -9.8" stroke="#1a2d2b" stroke-width="4.4" stroke-linecap="round" fill="none"/><path d="M561.6 333.6l9.8 9.8M561.6 343.4l9.8 -9.8" stroke="#1a2d2b" stroke-width="4.4" stroke-linecap="round" fill="none"/><path d="M572.7 326.5l9.8 9.8M572.7 336.3l9.8 -9.8" stroke="#1a2d2b" stroke-width="4.4" stroke-linecap="round" fill="none"/><path d="M583.8 329l9.8 9.8M583.8 338.8l9.8 -9.8" stroke="#1a2d2b" stroke-width="4.4" stroke-linecap="round" fill="none"/><path d="M594.7 333.8l9.8 9.8M594.7 343.6l9.8 -9.8" stroke="#1a2d2b" stroke-width="4.4" stroke-linecap="round" fill="none"/><path d="M605.6 339.4l9.8 9.8M605.6 349.2l9.8 -9.8" stroke="#1a2d2b" stroke-width="4.4" stroke-linecap="round" fill="none"/><path d="M616.5 345.4l9.8 9.8M616.5 355.2l9.8 -9.8" stroke="#1a2d2b" stroke-width="4.4" stroke-linecap="round" fill="none"/><path d="M627.4 353.2l9.8 9.8M627.4 363l9.8 -9.8" stroke="#1a2d2b" stroke-width="4.4" stroke-linecap="round" fill="none"/><path d="M638.3 363.9l9.8 9.8M638.3 373.7l9.8 -9.8" stroke="#1a2d2b" stroke-width="4.4" stroke-linecap="round" fill="none"/><path d="M649.2 374.4l9.8 9.8M649.2 384.2l9.8 -9.8" stroke="#1a2d2b" stroke-width="4.4" stroke-linecap="round" fill="none"/><path d="M659.6 387.8l9.8 9.8M659.6 397.6l9.8 -9.8" stroke="#1a2d2b" stroke-width="4.4" stroke-linecap="round" fill="none"/><path d="M670.1 409.6l9.8 9.8M670.1 419.4l9.8 -9.8" stroke="#1a2d2b" stroke-width="4.4" stroke-linecap="round" fill="none"/><path d="M680.5 434.5l9.8 9.8M680.5 444.3l9.8 -9.8" stroke="#1a2d2b" stroke-width="4.4" stroke-linecap="round" fill="none"/><path d="M690.9 456.8l9.8 9.8M690.9 466.6l9.8 -9.8" stroke="#1a2d2b" stroke-width="4.4" stroke-linecap="round" fill="none"/><path d="M701.4 475.2l9.8 9.8M701.4 485l9.8 -9.8" stroke="#1a2d2b" stroke-width="4.4" stroke-linecap="round" fill="none"/><path d="M711.8 491.4l9.8 9.8M711.8 501.2l9.8 -9.8" stroke="#1a2d2b" stroke-width="4.4" stroke-linecap="round" fill="none"/><path d="M722.3 505.8l9.8 9.8M722.3 515.6l9.8 -9.8" stroke="#1a2d2b" stroke-width="4.4" stroke-linecap="round" fill="none"/><path d="M732.7 518.4l9.8 9.8M732.7 528.2l9.8 -9.8" stroke="#1a2d2b" stroke-width="4.4" stroke-linecap="round" fill="none"/><path d="M743.1 529.2l9.8 9.8M743.1 539l9.8 -9.8" stroke="#1a2d2b" stroke-width="4.4" stroke-linecap="round" fill="none"/><path d="M753.7 537.7l9.8 9.8M753.7 547.5l9.8 -9.8" stroke="#1a2d2b" stroke-width="4.4" stroke-linecap="round" fill="none"/><path d="M764.3 545l9.8 9.8M764.3 554.8l9.8 -9.8" stroke="#1a2d2b" stroke-width="4.4" stroke-linecap="round" fill="none"/><path d="M774.9 551.4l9.8 9.8M774.9 561.2l9.8 -9.8" stroke="#1a2d2b" stroke-width="4.4" stroke-linecap="round" fill="none"/><path d="M785.5 557.5l9.8 9.8M785.5 567.3l9.8 -9.8" stroke="#1a2d2b" stroke-width="4.4" stroke-linecap="round" fill="none"/><path d="M796.1 562.3l9.8 9.8M796.1 572.1l9.8 -9.8" stroke="#1a2d2b" stroke-width="4.4" stroke-linecap="round" fill="none"/><path d="M806.7 566.7l9.8 9.8M806.7 576.5l9.8 -9.8" stroke="#1a2d2b" stroke-width="4.4" stroke-linecap="round" fill="none"/><path d="M817.3 571.1l9.8 9.8M817.3 580.9l9.8 -9.8" stroke="#1a2d2b" stroke-width="4.4" stroke-linecap="round" fill="none"/><path d="M827.7 575.2l9.8 9.8M827.7 585l9.8 -9.8" stroke="#1a2d2b" stroke-width="4.4" stroke-linecap="round" fill="none"/><path d="M838.2 579.8l9.8 9.8M838.2 589.6l9.8 -9.8" stroke="#1a2d2b" stroke-width="4.4" stroke-linecap="round" fill="none"/><polyline points="521.5,546.9 522.6,538.8 523.6,530.9 524.7,523.4 525.8,516.4 526.9,510.1 527.9,504.7 529,500.2 530.1,496.9 531.2,494.7 532.2,492.8 533.3,491.2 534.4,489.8 535.5,488.5 536.5,487.4 537.6,486.4 538.7,485.4 539.8,484.5 540.8,483.5 541.9,482.5 543,481.5 544,480.5 545.1,479.5 546.2,478.5 547.3,477.6 548.3,476.7 549.4,475.9 550.5,475 551.6,474.1 552.6,473.2 553.7,472.3 554.8,471.4 555.9,470.6 556.9,469.7 558,468.9 559.1,468.1 560.1,467.3 561.2,466.4 562.3,465.5 563.4,464.6 564.4,463.6 565.5,462.6 566.6,461.4 567.7,460.1 568.7,458.7 569.8,457.1 570.9,455.4 572,453.7 573,451.9 574.1,450.2 575.2,448.6 576.3,447 577.3,445.5 578.4,444 579.5,442.5 580.5,441.1 581.6,439.6 582.7,438.2 583.8,436.8 584.8,435.4 585.9,434.1 587,432.7 588.1,431.4 589.1,430.1 590.2,428.8 591.3,427.6 592.4,426.4 593.4,425.2 594.5,424 595.6,422.8 596.7,421.6 597.7,420.4 598.8,419.2 599.9,418 600.9,416.8 602,415.6 603.1,414.4 604.2,413.2 605.2,412 606.3,410.8 607.4,409.6 608.5,408.4 609.5,407.2 610.6,405.9 611.7,404.6 612.8,403.3 613.8,401.9 614.9,400.4 616,398.9 617,397.4 618.1,395.9 619.2,394.4 620.3,393 621.3,391.6 622.4,390.3 623.5,389 624.6,387.8 625.6,386.7 626.7,385.5 627.8,384.4 628.9,383.4 629.9,382.3 631,381.2 632.1,380.1 633.2,379 634.2,377.9 635.3,376.8 636.4,375.6 637.4,374.4 638.5,373.2 639.6,372 640.7,371 641.7,370 642.8,369.2 643.9,368.5 645,367.8 646,367.1 647.1,366.4 648.2,365.7 649.3,365.2 650.3,364.7 651.4,364.3 652.5,364 653.6,363.8 654.6,363.8 655.7,364.1 656.8,364.5 657.8,365.2 658.9,366 660,367 661.1,368.1 662.1,369.3 663.2,370.6 664.3,372 665.4,373.4 666.4,374.9 667.5,376.4 668.6,377.8 669.7,379.2 670.7,380.6 671.8,382.1 672.9,383.7 673.9,385.5 675,387.3 676.1,389.1 677.2,391.1 678.2,393 679.3,395 680.4,397 681.5,399 682.5,401 683.6,403 684.7,404.9 685.8,406.8 686.8,408.8 687.9,410.9 689,412.9 690.1,414.9 691.1,417 692.2,419 693.3,420.9 694.3,422.9 695.4,424.7 696.5,426.5 697.6,428.3 698.6,430 699.7,431.6 700.8,433.3 701.9,434.9 702.9,436.5 704,438.1 705.1,439.7 706.2,441.2 707.2,442.7 708.3,444.3 709.4,445.8 710.5,447.2 711.5,448.7 712.6,450.1 713.7,451.6 714.7,453 715.8,454.4 716.9,455.8 718,457.2 719,458.6 720.1,460 721.2,461.5 722.3,462.9 723.3,464.4 724.4,465.8 725.5,467.2 726.6,468.7 727.6,470.1 728.7,471.5 729.8,472.9 730.8,474.3 731.9,475.6 733,477 734.1,478.3 735.1,479.6 736.2,480.9 737.3,482.2 738.4,483.5 739.4,484.8 740.5,486 741.6,487.3 742.7,488.5 743.7,489.7 744.8,490.8 745.9,491.9 747,493 748,494.1 749.1,495.2 750.2,496.2 751.2,497.3 752.3,498.3 753.4,499.4 754.5,500.4 755.5,501.5 756.6,502.5 757.7,503.6 758.8,504.7 759.8,505.7 760.9,506.8 762,507.9 763.1,508.9 764.1,510 765.2,511.1 766.3,512.2 767.4,513.2 768.4,514.3 769.5,515.4 770.6,516.5 771.6,517.6 772.7,518.7 773.8,519.9 774.9,521 775.9,522.1 777,523.1 778.1,524.1 779.2,525.1 780.2,526.1 781.3,526.9 782.4,527.8 783.5,528.7 784.5,529.5 785.6,530.3 786.7,531 787.7,531.8 788.8,532.6 789.9,533.3 791,534 792,534.7 793.1,535.4 794.2,536.1 795.3,536.8 796.3,537.4 797.4,538.1 798.5,538.7 799.6,539.3 800.6,539.9 801.7,540.5 802.8,541.1 803.9,541.7 804.9,542.3 806,542.9 807.1,543.5 808.1,544.1 809.2,544.7 810.3,545.3 811.4,545.9 812.4,546.5 813.5,547.1 814.6,547.7 815.7,548.3 816.7,548.9 817.8,549.5 818.9,550.1 820,550.7 821,551.3 822.1,551.9 823.2,552.5 824.3,553.1 825.3,553.7 826.4,554.3 827.5,554.9 828.5,555.5 829.6,556.1 830.7,556.7 831.8,557.4 832.8,558 833.9,558.6 835,559.2 836.1,559.9 837.1,560.5 838.2,561.2 839.3,561.9 840.4,562.5 841.4,563.2 842.5,563.9" fill="none" stroke="#40c0b8" stroke-width="3.5" stroke-dasharray="12.8 5.2"/><rect x="516.1" y="541.5" width="10.8" height="10.8" fill="none" stroke="#40c0b8" stroke-width="4.2"/><rect x="527.7" y="486.1" width="10.8" height="10.8" fill="none" stroke="#40c0b8" stroke-width="4.2"/><rect x="538.8" y="474.9" width="10.8" height="10.8" fill="none" stroke="#40c0b8" stroke-width="4.2"/><rect x="549.9" y="465.6" width="10.8" height="10.8" fill="none" stroke="#40c0b8" stroke-width="4.2"/><rect x="561.1" y="456.2" width="10.8" height="10.8" fill="none" stroke="#40c0b8" stroke-width="4.2"/><rect x="572.2" y="439.7" width="10.8" height="10.8" fill="none" stroke="#40c0b8" stroke-width="4.2"/><rect x="583.3" y="425.2" width="10.8" height="10.8" fill="none" stroke="#40c0b8" stroke-width="4.2"/><rect x="594.2" y="412.9" width="10.8" height="10.8" fill="none" stroke="#40c0b8" stroke-width="4.2"/><rect x="605.1" y="400.6" width="10.8" height="10.8" fill="none" stroke="#40c0b8" stroke-width="4.2"/><rect x="616" y="386.1" width="10.8" height="10.8" fill="none" stroke="#40c0b8" stroke-width="4.2"/><rect x="626.9" y="374.5" width="10.8" height="10.8" fill="none" stroke="#40c0b8" stroke-width="4.2"/><rect x="637.8" y="363.5" width="10.8" height="10.8" fill="none" stroke="#40c0b8" stroke-width="4.2"/><rect x="648.7" y="358.4" width="10.8" height="10.8" fill="none" stroke="#40c0b8" stroke-width="4.2"/><rect x="659.1" y="366.9" width="10.8" height="10.8" fill="none" stroke="#40c0b8" stroke-width="4.2"/><rect x="669.6" y="381.8" width="10.8" height="10.8" fill="none" stroke="#40c0b8" stroke-width="4.2"/><rect x="680" y="400.8" width="10.8" height="10.8" fill="none" stroke="#40c0b8" stroke-width="4.2"/><rect x="690.4" y="420" width="10.8" height="10.8" fill="none" stroke="#40c0b8" stroke-width="4.2"/><rect x="700.9" y="436" width="10.8" height="10.8" fill="none" stroke="#40c0b8" stroke-width="4.2"/><rect x="711.3" y="450.2" width="10.8" height="10.8" fill="none" stroke="#40c0b8" stroke-width="4.2"/><rect x="721.8" y="464.1" width="10.8" height="10.8" fill="none" stroke="#40c0b8" stroke-width="4.2"/><rect x="732.2" y="477.2" width="10.8" height="10.8" fill="none" stroke="#40c0b8" stroke-width="4.2"/><rect x="742.6" y="488.7" width="10.8" height="10.8" fill="none" stroke="#40c0b8" stroke-width="4.2"/><rect x="753.2" y="499.1" width="10.8" height="10.8" fill="none" stroke="#40c0b8" stroke-width="4.2"/><rect x="763.8" y="509.7" width="10.8" height="10.8" fill="none" stroke="#40c0b8" stroke-width="4.2"/><rect x="774.4" y="520.3" width="10.8" height="10.8" fill="none" stroke="#40c0b8" stroke-width="4.2"/><rect x="785" y="528.2" width="10.8" height="10.8" fill="none" stroke="#40c0b8" stroke-width="4.2"/><rect x="795.6" y="534.7" width="10.8" height="10.8" fill="none" stroke="#40c0b8" stroke-width="4.2"/><rect x="806.2" y="540.7" width="10.8" height="10.8" fill="none" stroke="#40c0b8" stroke-width="4.2"/><rect x="816.8" y="546.6" width="10.8" height="10.8" fill="none" stroke="#40c0b8" stroke-width="4.2"/><rect x="827.2" y="552.5" width="10.8" height="10.8" fill="none" stroke="#40c0b8" stroke-width="4.2"/><rect x="837.7" y="558.8" width="10.8" height="10.8" fill="none" stroke="#40c0b8" stroke-width="4.2"/><polyline points="521.5,555.3 522.6,547.7 523.6,540.3 524.7,533.1 525.8,526.4 526.9,520.5 527.9,515.4 529,511.3 530.1,508.6 531.2,507 532.2,505.7 533.3,504.6 534.4,503.6 535.5,502.8 536.5,502.1 537.6,501.4 538.7,500.8 539.8,500.2 540.8,499.6 541.9,499 543,498.3 544,497.5 545.1,496.7 546.2,495.9 547.3,495.1 548.3,494.4 549.4,493.6 550.5,492.8 551.6,492 552.6,491.2 553.7,490.4 554.8,489.6 555.9,488.8 556.9,488 558,487.1 559.1,486.3 560.1,485.4 561.2,484.5 562.3,483.6 563.4,482.6 564.4,481.7 565.5,480.8 566.6,479.8 567.7,478.9 568.7,478 569.8,477 570.9,476.1 572,475.2 573,474.3 574.1,473.4 575.2,472.5 576.3,471.5 577.3,470.6 578.4,469.7 579.5,468.7 580.5,467.7 581.6,466.8 582.7,465.8 583.8,464.7 584.8,463.7 585.9,462.7 587,461.6 588.1,460.5 589.1,459.4 590.2,458.4 591.3,457.2 592.4,456.1 593.4,455 594.5,453.8 595.6,452.7 596.7,451.5 597.7,450.3 598.8,449 599.9,447.8 600.9,446.5 602,445.3 603.1,444.1 604.2,442.8 605.2,441.6 606.3,440.4 607.4,439.2 608.5,438 609.5,436.8 610.6,435.6 611.7,434.4 612.8,433.2 613.8,432 614.9,430.7 616,429.5 617,428.2 618.1,426.9 619.2,425.6 620.3,424.2 621.3,422.8 622.4,421.4 623.5,420 624.6,418.6 625.6,417.2 626.7,415.7 627.8,414.3 628.9,412.9 629.9,411.5 631,410.2 632.1,408.9 633.2,407.5 634.2,406.2 635.3,404.9 636.4,403.5 637.4,402.2 638.5,400.8 639.6,399.3 640.7,397.8 641.7,396.2 642.8,394.4 643.9,392.6 645,390.6 646,388.7 647.1,386.7 648.2,384.8 649.3,383 650.3,381.3 651.4,379.5 652.5,377.6 653.6,375.7 654.6,373.9 655.7,372.3 656.8,371 657.8,370.2 658.9,370 660,370 661.1,370.2 662.1,370.5 663.2,370.8 664.3,371.1 665.4,371.5 666.4,372 667.5,372.4 668.6,373 669.7,373.8 670.7,374.7 671.8,375.7 672.9,376.8 673.9,378 675,379.3 676.1,380.6 677.2,381.9 678.2,383.2 679.3,384.5 680.4,385.8 681.5,387.1 682.5,388.5 683.6,389.9 684.7,391.3 685.8,392.8 686.8,394.4 687.9,395.9 689,397.5 690.1,399.1 691.1,400.7 692.2,402.2 693.3,403.9 694.3,405.5 695.4,407.3 696.5,409 697.6,410.7 698.6,412.5 699.7,414.2 700.8,415.9 701.9,417.6 702.9,419.2 704,420.8 705.1,422.3 706.2,423.9 707.2,425.4 708.3,426.9 709.4,428.4 710.5,429.9 711.5,431.4 712.6,432.8 713.7,434.3 714.7,435.7 715.8,437.1 716.9,438.5 718,439.9 719,441.3 720.1,442.7 721.2,444.1 722.3,445.6 723.3,447 724.4,448.5 725.5,450 726.6,451.5 727.6,453.1 728.7,454.7 729.8,456.3 730.8,457.8 731.9,459.3 733,460.7 734.1,462 735.1,463.2 736.2,464.4 737.3,465.5 738.4,466.5 739.4,467.5 740.5,468.5 741.6,469.5 742.7,470.5 743.7,471.6 744.8,472.6 745.9,473.8 747,475 748,476.2 749.1,477.5 750.2,478.8 751.2,480.2 752.3,481.5 753.4,482.8 754.5,484.1 755.5,485.4 756.6,486.6 757.7,487.7 758.8,488.8 759.8,490 760.9,491 762,492.1 763.1,493.2 764.1,494.2 765.2,495.3 766.3,496.3 767.4,497.3 768.4,498.3 769.5,499.2 770.6,500.1 771.6,501 772.7,501.9 773.8,502.8 774.9,503.6 775.9,504.5 777,505.4 778.1,506.3 779.2,507.2 780.2,508.2 781.3,509.2 782.4,510.3 783.5,511.4 784.5,512.5 785.6,513.6 786.7,514.8 787.7,515.9 788.8,517 789.9,518 791,518.9 792,519.9 793.1,520.8 794.2,521.7 795.3,522.5 796.3,523.4 797.4,524.2 798.5,525.1 799.6,525.9 800.6,526.8 801.7,527.6 802.8,528.5 803.9,529.4 804.9,530.2 806,531.1 807.1,532 808.1,532.9 809.2,533.8 810.3,534.6 811.4,535.4 812.4,536.2 813.5,537 814.6,537.8 815.7,538.5 816.7,539.2 817.8,539.9 818.9,540.6 820,541.3 821,542 822.1,542.7 823.2,543.4 824.3,544.1 825.3,544.8 826.4,545.5 827.5,546.2 828.5,546.9 829.6,547.5 830.7,548.2 831.8,548.9 832.8,549.6 833.9,550.4 835,551.2 836.1,552 837.1,552.9 838.2,553.9 839.3,554.9 840.4,556 841.4,557.1 842.5,558.3" fill="none" stroke="#16147c" stroke-width="3.5" stroke-dasharray="12.8 5.2"/><path d="M510.7 555.3L528 544.1L528 566.5Z" fill="#16147c"/><path d="M519.1 555.3L524 552.2L524 558.5Z" fill="#fff" fill-opacity="0.55"/><path d="M522.3 504.8L539.6 493.6L539.6 516Z" fill="#16147c"/><path d="M530.7 504.8L535.6 501.6L535.6 507.9Z" fill="#fff" fill-opacity="0.55"/><path d="M533.4 497.4L550.7 486.2L550.7 508.6Z" fill="#16147c"/><path d="M541.9 497.4L546.7 494.2L546.7 500.5Z" fill="#fff" fill-opacity="0.55"/><path d="M544.5 489.2L561.8 478L561.8 500.4Z" fill="#16147c"/><path d="M553 489.2L557.8 486.1L557.8 492.4Z" fill="#fff" fill-opacity="0.55"/><path d="M555.7 479.9L573 468.7L573 491.1Z" fill="#16147c"/><path d="M564.1 479.9L568.9 476.8L568.9 483.1Z" fill="#fff" fill-opacity="0.55"/><path d="M566.8 470.4L584.1 459.2L584.1 481.6Z" fill="#16147c"/><path d="M575.2 470.4L580.1 467.2L580.1 473.5Z" fill="#fff" fill-opacity="0.55"/><path d="M577.9 459.9L595.2 448.7L595.2 471.1Z" fill="#16147c"/><path d="M586.3 459.9L591.2 456.7L591.2 463Z" fill="#fff" fill-opacity="0.55"/><path d="M588.8 448.1L606.1 436.9L606.1 459.3Z" fill="#16147c"/><path d="M597.2 448.1L602.1 444.9L602.1 451.2Z" fill="#fff" fill-opacity="0.55"/><path d="M599.7 435.7L617 424.5L617 446.9Z" fill="#16147c"/><path d="M608.1 435.7L613 432.5L613 438.8Z" fill="#fff" fill-opacity="0.55"/><path d="M610.6 422.7L627.9 411.5L627.9 433.9Z" fill="#16147c"/><path d="M619 422.7L623.9 419.6L623.9 425.9Z" fill="#fff" fill-opacity="0.55"/><path d="M621.5 408.6L638.8 397.4L638.8 419.8Z" fill="#16147c"/><path d="M629.9 408.6L634.8 405.4L634.8 411.7Z" fill="#fff" fill-opacity="0.55"/><path d="M632.4 393.8L649.7 382.6L649.7 405Z" fill="#16147c"/><path d="M640.8 393.8L645.7 390.6L645.7 396.9Z" fill="#fff" fill-opacity="0.55"/><path d="M643.3 374.8L660.6 363.6L660.6 386Z" fill="#16147c"/><path d="M651.7 374.8L656.6 371.6L656.6 377.9Z" fill="#fff" fill-opacity="0.55"/><path d="M653.7 371.2L671 360L671 382.4Z" fill="#16147c"/><path d="M662.2 371.2L667 368.1L667 374.4Z" fill="#fff" fill-opacity="0.55"/><path d="M664.2 379.2L681.5 368L681.5 390.4Z" fill="#16147c"/><path d="M672.6 379.2L677.4 376.1L677.4 382.4Z" fill="#fff" fill-opacity="0.55"/><path d="M674.6 392.3L691.9 381.1L691.9 403.5Z" fill="#16147c"/><path d="M683 392.3L687.9 389.2L687.9 395.5Z" fill="#fff" fill-opacity="0.55"/><path d="M685 407.9L702.3 396.7L702.3 419.1Z" fill="#16147c"/><path d="M693.5 407.9L698.3 404.8L698.3 411.1Z" fill="#fff" fill-opacity="0.55"/><path d="M695.5 424L712.8 412.8L712.8 435.2Z" fill="#16147c"/><path d="M703.9 424L708.7 420.9L708.7 427.2Z" fill="#fff" fill-opacity="0.55"/><path d="M705.9 438.3L723.2 427.1L723.2 449.5Z" fill="#16147c"/><path d="M714.3 438.3L719.2 435.2L719.2 441.5Z" fill="#fff" fill-opacity="0.55"/><path d="M716.4 452.4L733.7 441.2L733.7 463.6Z" fill="#16147c"/><path d="M724.8 452.4L729.6 449.3L729.6 455.5Z" fill="#fff" fill-opacity="0.55"/><path d="M726.8 465.8L744.1 454.6L744.1 477Z" fill="#16147c"/><path d="M735.2 465.8L740.1 462.6L740.1 468.9Z" fill="#fff" fill-opacity="0.55"/><path d="M737.2 476.2L754.5 465L754.5 487.4Z" fill="#16147c"/><path d="M745.6 476.2L750.5 473.1L750.5 479.3Z" fill="#fff" fill-opacity="0.55"/><path d="M747.8 488.7L765.1 477.5L765.1 499.9Z" fill="#16147c"/><path d="M756.3 488.7L761.1 485.6L761.1 491.8Z" fill="#fff" fill-opacity="0.55"/><path d="M758.4 499L775.7 487.8L775.7 510.2Z" fill="#16147c"/><path d="M766.9 499L771.7 495.8L771.7 502.1Z" fill="#fff" fill-opacity="0.55"/><path d="M769 507.8L786.3 496.6L786.3 519Z" fill="#16147c"/><path d="M777.5 507.8L782.3 504.7L782.3 510.9Z" fill="#fff" fill-opacity="0.55"/><path d="M779.6 518.5L796.9 507.3L796.9 529.7Z" fill="#16147c"/><path d="M788.1 518.5L792.9 515.3L792.9 521.6Z" fill="#fff" fill-opacity="0.55"/><path d="M790.2 527.1L807.5 515.9L807.5 538.3Z" fill="#16147c"/><path d="M798.7 527.1L803.5 523.9L803.5 530.2Z" fill="#fff" fill-opacity="0.55"/><path d="M800.8 535.6L818.1 524.4L818.1 546.8Z" fill="#16147c"/><path d="M809.3 535.6L814.1 532.5L814.1 538.8Z" fill="#fff" fill-opacity="0.55"/><path d="M811.4 542.8L828.7 531.6L828.7 554Z" fill="#16147c"/><path d="M819.9 542.8L824.7 539.7L824.7 545.9Z" fill="#fff" fill-opacity="0.55"/><path d="M821.8 549.5L839.1 538.3L839.1 560.7Z" fill="#16147c"/><path d="M830.3 549.5L835.1 546.4L835.1 552.6Z" fill="#fff" fill-opacity="0.55"/><path d="M832.3 558.9L849.6 547.7L849.6 570.1Z" fill="#16147c"/><path d="M840.7 558.9L845.5 555.8L845.5 562Z" fill="#fff" fill-opacity="0.55"/></g>
<text x="521.5" y="631" font-size="26.5" text-anchor="middle">0</text>
<text x="613.3" y="631" font-size="26.5" text-anchor="middle">500</text>
<text x="705.3" y="631" font-size="26.5" text-anchor="middle">1000</text>
<text x="797.6" y="631" font-size="26.5" text-anchor="middle">1500</text>
<text x="514.6" y="611.2" font-size="26.5" text-anchor="end">0</text>
<text x="514.6" y="518" font-size="26.5" text-anchor="end">0.05</text>
<text x="514.6" y="424.9" font-size="26.5" text-anchor="end">0.1</text>
<text x="514.6" y="331.8" font-size="26.5" text-anchor="end">0.15</text>
<text x="514.6" y="238.6" font-size="26.5" text-anchor="end">0.2</text>
<text x="514.6" y="145.4" font-size="26.5" text-anchor="end">0.25</text>
<text x="687.2" y="24.5" font-size="27.5" text-anchor="middle">CC-CV (3C)</text>
<text x="685.8" y="667.3" font-size="34" text-anchor="middle" textLength="165.5" lengthAdjust="spacingAndGlyphs">Time (Sec)</text>
<rect x="919.3" y="43" width="339.4" height="558.9" fill="none" stroke="#555" stroke-width="2"/>
<path d="M1013 601.9v-6M1013 43v6M1107.6 601.9v-6M1107.6 43v6M1201.9 601.9v-6M1201.9 43v6M919.3 508.8h5.5M1258.7 508.8h-5.5M919.3 415.6h5.5M1258.7 415.6h-5.5M919.3 322.4h5.5M1258.7 322.4h-5.5M919.3 229.3h5.5M1258.7 229.3h-5.5M919.3 136.1h5.5M1258.7 136.1h-5.5" stroke="#555" stroke-width="1.6" fill="none"/>
<g><polyline points="919.3,419.3 919.9,403.3 920.5,387.4 921.2,371.5 921.8,355.7 922.4,340 923,324.3 923.6,308.7 924.3,293.2 924.9,277.7 925.5,262.1 926.1,246.4 926.7,230.7 927.4,215.1 928,199.8 928.6,184.8 929.2,170.3 929.8,156.4 930.5,142.5 931.1,128.7 931.7,115.7 932.3,104 933,94 933.6,84.5 934.2,74.9 934.8,66.5 935.4,60 936.1,56.7 936.7,56.5 937.3,56.8 937.9,57.4 938.5,58.3 939.2,59.3 939.8,60.4 940.4,61.7 941,63 941.6,64.3 942.3,65.7 942.9,67.2 943.5,69 944.1,71 944.7,73.1 945.4,75.4 946,77.7 946.6,80.1 947.2,82.4 947.8,84.7 948.5,86.9 949.1,89.1 949.7,91.3 950.3,93.6 950.9,95.9 951.6,98.3 952.2,100.7 952.8,103.2 953.4,105.9 954.1,108.7 954.7,111.5 955.3,114.4 955.9,117.2 956.5,120.1 957.2,122.8 957.8,125.5 958.4,128 959,130.4 959.6,132.6 960.3,134.8 960.9,136.9 961.5,139 962.1,141.2 962.7,143.6 963.4,146.1 964,148.9 964.6,151.8 965.2,154.9 965.8,158.2 966.5,161.6 967.1,165.1 967.7,168.7 968.3,172.5 969.5,175.1 970.6,179.2 971.7,183.4 972.9,187.5 974,191.5 975.1,195.5 976.3,199.4 977.4,203.2 978.5,207.1 979.7,210.9 980.8,214.7 981.9,218.5 983.1,222.1 984.2,225.6 985.3,229 986.5,232.1 987.6,235 988.7,237.7 989.9,240.1 991,242.4 992.1,244.5 993.3,246.6 994.4,248.6 995.5,250.6 996.7,252.7 997.8,254.8 998.9,257.1 1000.1,259.6 1001.2,262.3 1002.3,265.2 1003.5,268.5 1004.6,272.1 1005.8,276.1 1006.9,280.4 1008,285 1009.2,290.1 1010.3,295.4 1011.4,301.1 1012.6,307.1 1013.7,314.2 1014.8,323 1016,332.9 1017.1,343.2 1018.2,353.2 1019.4,362.5 1020.5,370.3 1021.6,376.2 1022.8,381.3 1023.9,386 1025,390.3 1026.2,394.2 1027.3,398 1028.4,401.5 1029.6,405 1030.7,408.4 1031.8,411.8 1033,415.3 1034.1,418.8 1035.2,422.3 1036.4,425.7 1037.5,429.1 1038.6,432.3 1039.8,435.6 1040.9,438.8 1042,442 1043.2,445.2 1044.3,448.5 1045.4,451.8 1046.6,455.2 1047.7,458.7 1048.9,462.3 1050,465.9 1051.1,469.5 1052.3,472.9 1053.4,476.1 1054.5,479 1055.7,481.7 1056.8,484.1 1057.9,486.4 1059.1,488.5 1060.2,490.6 1061.3,492.6 1062.5,494.5 1063.6,496.5 1064.7,498.4 1065.9,500.4 1067,502.5 1068.1,504.6 1069.3,506.8 1070.4,509 1071.5,511.1 1072.7,513.3 1073.8,515.4 1074.9,517.4 1076.1,519.3 1077.2,521.2 1078.3,522.8 1079.5,524.4 1080.6,525.9 1081.7,527.3 1082.9,528.7 1084,530 1085.1,531.3 1086.3,532.5 1087.4,533.8 1088.5,535 1089.7,536.3 1090.8,537.5 1091.9,538.9 1093.1,540.2 1094.2,541.6 1095.4,542.9 1096.5,544.3 1097.6,545.7 1098.8,547.1 1099.9,548.4 1101,549.7 1102.2,551 1103.3,552.3 1104.4,553.5 1105.6,554.7 1106.7,555.9 1107.8,557.1 1109,558.3 1110.1,559.4 1111.2,560.5 1112.4,561.6 1113.5,562.7 1114.6,563.7 1115.8,564.7 1116.9,565.7 1118,566.7 1119.2,567.6 1120.3,568.6 1121.4,569.5 1122.6,570.3 1123.7,571.2 1124.8,572 1126,572.8 1127.1,573.6 1128.2,574.4 1129.4,575.1 1130.5,575.8 1131.6,576.4 1132.8,577.1 1133.9,577.8 1135,578.4 1136.2,579.1 1137.3,579.8 1138.5,580.5 1139.6,581.2 1140.7,581.9 1141.9,582.7 1143,583.4 1144.1,584.2 1145.3,584.9 1146.4,585.6 1147.5,586.2 1148.7,586.8 1149.8,587.4 1150.9,587.9 1152.1,588.4 1153.2,588.8 1154.3,589.3 1155.5,589.7 1156.6,590.1 1157.7,590.5 1158.9,590.9 1160,591.3 1161.1,591.8 1162.3,592.2 1163.4,592.7 1164.5,593.2 1165.7,593.7 1166.8,594.2 1167.9,594.7 1169.1,595.2 1170.2,595.6 1171.3,596 1172.5,596.3 1173.6,596.7 1174.7,596.9 1175.9,597.2 1177,597.5 1178.1,597.7 1179.3,597.9 1180.4,598.2 1181.5,598.4 1182.7,598.7 1183.8,598.9 1185,599.2 1186.1,599.4 1187.2,599.7 1188.4,600 1189.5,600.2 1190.6,600.5 1191.8,600.8 1192.9,601.1 1194,601.3" fill="none" stroke="#c8202e" stroke-width="3.5" stroke-dasharray="12.3 5.9 3.3 5.9"/><polyline points="919.3,419.5 920.2,396.9 921.1,374.6 922.1,352.8 923,331.4 923.9,310.5 924.8,290.1 925.7,270.1 926.7,249.9 927.6,228.1 928.5,205.9 929.4,184.3 930.3,164.4 931.2,147.3 932.2,133.9 933.1,125.4 934,119.9 934.9,115.1 935.8,111.1 936.8,108 937.7,106 938.6,105 939.5,104.3 940.4,103.7 941.4,103.2 942.3,102.8 943.2,102.6 944.1,102.7 945,103.5 945.9,104.8 946.9,106.5 947.8,108.4 948.7,110.4 949.6,112.2 950.5,114.1 951.5,116.2 952.4,118.5 953.3,120.8 954.2,123.3 955.1,125.8 956.1,128.5 957,131.2 957.9,134.1 958.8,137.1 959.7,140.2 960.6,143.4 961.6,146.7 962.5,150 963.4,153.4 964.3,156.7 965.2,160 966.2,163.3 967.1,166.5 968,169.8 968.9,173.1 969.8,176.5 970.8,179.8 971.7,183.2 972.6,186.5 973.5,189.8 974.4,193.1 975.3,196.3 976.3,199.4 977.2,202.5 978.1,205.6 979,208.7 979.9,211.8 980.9,214.9 981.8,218 982.7,220.9 983.6,223.8 984.5,226.6 985.5,229.3 986.4,231.8 987.3,234.2 988.2,236.5 989.1,238.5 990,240.5 991,242.3 991.9,244.1 992.8,245.7 993.7,247.4 994.6,249 995.6,250.6 996.5,252.3 997.4,254 998.3,255.8 999.2,257.7 1000.2,259.7 1001.1,261.9 1002,264.3 1002.9,266.8 1003.8,269.6 1004.7,272.5 1005.7,275.8 1006.6,279.2 1007.5,282.9 1008.4,286.8 1009.3,290.9 1010.3,295.3 1011.2,299.9 1012.1,304.7 1013,309.8 1013.9,316 1014.9,323.3 1015.8,331.2 1016.7,339.5 1017.6,347.8 1018.5,355.8 1019.5,363.1 1020.4,369.5 1021.3,374.5 1022.2,378.8 1023.1,382.8 1024,386.5 1025,390 1025.9,393.3 1026.8,396.4 1027.7,399.3 1028.6,402.2 1029.6,404.9 1030.5,407.7 1031.4,410.4 1032.3,413.2 1033.2,416.1 1034.2,419 1035.1,421.8 1036,424.6 1036.9,427.3 1037.8,430 1038.7,432.6 1039.7,435.2 1040.6,437.8 1041.5,440.4 1042.4,443.1 1043.3,445.7 1044.3,448.3 1045.2,451 1046.1,453.7 1047,456.5 1047.9,459.4 1048.9,462.3 1049.8,465.3 1050.7,468.2 1051.6,471 1052.5,473.7 1053.4,476.3 1054.4,478.7 1055.3,480.8 1056.2,482.8 1057.1,484.8 1058,486.6 1059,488.3 1059.9,490 1060.8,491.7 1061.7,493.3 1062.6,494.8 1063.6,496.4 1064.5,498 1065.4,499.6 1066.3,501.2 1067.2,502.9 1068.1,504.6 1069.1,506.4 1070,508.2 1070.9,509.9 1071.8,511.7 1072.7,513.4 1073.7,515.1 1074.6,516.8 1075.5,518.4 1076.4,519.9 1077.3,521.4 1078.3,522.7 1079.2,524 1080.1,525.2 1081,526.4 1081.9,527.6 1082.8,528.7 1083.8,529.7 1084.7,530.8 1085.6,531.8 1086.5,532.8 1087.4,533.8 1088.4,534.8 1089.3,535.8 1090.2,536.8 1091.1,537.9 1092,539 1093,540 1093.9,541.1 1094.8,542.3 1095.7,543.4 1096.6,544.5 1097.5,545.6 1098.5,546.7 1099.4,547.8 1100.3,548.9 1101.2,550 1102.1,551 1103.1,552 1104,553 1104.9,554 1105.8,555 1106.7,556 1107.7,556.9 1108.6,557.9 1109.5,558.8 1110.4,559.7 1111.3,560.6 1112.3,561.5 1113.2,562.4 1114.1,563.2 1115,564.1 1115.9,564.9 1116.8,565.7 1117.8,566.5 1118.7,567.2 1119.6,568 1120.5,568.7 1121.4,569.5 1122.4,570.2 1123.3,570.9 1124.2,571.6 1125.1,572.2 1126,572.9 1127,573.5 1127.9,574.1 1128.8,574.7 1129.7,575.3 1130.6,575.8 1131.5,576.4 1132.5,576.9 1133.4,577.5 1134.3,578 1135.2,578.5 1136.1,579.1 1137.1,579.6 1138,580.2 1138.9,580.8 1139.8,581.4 1140.7,582 1141.7,582.6 1142.6,583.2 1143.5,583.8 1144.4,584.4 1145.3,584.9 1146.2,585.5 1147.2,586 1148.1,586.5 1149,587 1149.9,587.5 1150.8,587.9 1151.8,588.3 1152.7,588.6 1153.6,589 1154.5,589.3 1155.4,589.7 1156.4,590 1157.3,590.3 1158.2,590.7 1159.1,591 1160,591.3 1160.9,591.7 1161.9,592.1 1162.8,592.5 1163.7,592.9 1164.6,593.3 1165.5,593.7 1166.5,594.1 1167.4,594.5 1168.3,594.9 1169.2,595.2 1170.1,595.6 1171.1,595.9 1172,596.2 1172.9,596.5 1173.8,596.7 1174.7,596.9 1175.6,597.2 1176.6,597.4 1177.5,597.6 1178.4,597.8 1179.3,598 1180.2,598.1 1181.2,598.3 1182.1,598.5 1183,598.7 1183.9,598.9 1184.8,599.2 1185.8,599.4 1186.7,599.6 1187.6,599.8 1188.5,600 1189.4,600.2 1190.4,600.5 1191.3,600.7 1192.2,600.9 1193.1,601.1 1194,601.3" fill="none" stroke="#bf1cc0" stroke-width="3.5" stroke-dasharray="12.8 5.2"/><circle cx="919.3" cy="419.5" r="5.5" fill="none" stroke="#bf1cc0" stroke-width="4.4"/><circle cx="932.5" cy="130.2" r="5.5" fill="none" stroke="#bf1cc0" stroke-width="4.4"/><circle cx="943.6" cy="102.6" r="5.5" fill="none" stroke="#bf1cc0" stroke-width="4.4"/><circle cx="954.7" cy="124.8" r="5.5" fill="none" stroke="#bf1cc0" stroke-width="4.4"/><circle cx="965.9" cy="162.3" r="5.5" fill="none" stroke="#bf1cc0" stroke-width="4.4"/><circle cx="977" cy="201.9" r="5.5" fill="none" stroke="#bf1cc0" stroke-width="4.4"/><circle cx="988.1" cy="236.3" r="5.5" fill="none" stroke="#bf1cc0" stroke-width="4.4"/><circle cx="999.7" cy="258.6" r="5.5" fill="none" stroke="#bf1cc0" stroke-width="4.4"/><circle cx="1011.2" cy="300" r="5.5" fill="none" stroke="#bf1cc0" stroke-width="4.4"/><circle cx="1022.7" cy="381.2" r="5.5" fill="none" stroke="#bf1cc0" stroke-width="4.4"/><circle cx="1034.3" cy="419.4" r="5.5" fill="none" stroke="#bf1cc0" stroke-width="4.4"/><circle cx="1045.8" cy="452.9" r="5.5" fill="none" stroke="#bf1cc0" stroke-width="4.4"/><circle cx="1057" cy="484.6" r="5.5" fill="none" stroke="#bf1cc0" stroke-width="4.4"/><circle cx="1068.2" cy="504.8" r="5.5" fill="none" stroke="#bf1cc0" stroke-width="4.4"/><circle cx="1079.4" cy="524.3" r="5.5" fill="none" stroke="#bf1cc0" stroke-width="4.4"/><circle cx="1090.6" cy="537.3" r="5.5" fill="none" stroke="#bf1cc0" stroke-width="4.4"/><circle cx="1101.8" cy="550.6" r="5.5" fill="none" stroke="#bf1cc0" stroke-width="4.4"/><circle cx="1112" cy="561.2" r="5.5" fill="none" stroke="#bf1cc0" stroke-width="4.4"/><circle cx="1122.1" cy="570" r="5.5" fill="none" stroke="#bf1cc0" stroke-width="4.4"/><circle cx="1132.2" cy="576.8" r="5.5" fill="none" stroke="#bf1cc0" stroke-width="4.4"/><circle cx="1142.4" cy="583" r="5.5" fill="none" stroke="#bf1cc0" stroke-width="4.4"/><circle cx="1152.5" cy="588.6" r="5.5" fill="none" stroke="#bf1cc0" stroke-width="4.4"/><circle cx="1162.6" cy="592.4" r="5.5" fill="none" stroke="#bf1cc0" stroke-width="4.4"/><circle cx="1172.8" cy="596.4" r="5.5" fill="none" stroke="#bf1cc0" stroke-width="4.4"/><circle cx="1182.9" cy="598.7" r="5.5" fill="none" stroke="#bf1cc0" stroke-width="4.4"/><circle cx="1194" cy="601.3" r="5.5" fill="none" stroke="#bf1cc0" stroke-width="4.4"/><polyline points="919.3,500 920.4,486.8 921.5,473.9 922.6,461.4 923.7,449.3 924.8,437.6 925.9,426.3 927,415.5 928.1,405.2 929.2,395.5 930.3,386.2 931.5,377.5 932.6,369.1 933.7,361 934.8,353.1 935.9,345.5 937,338.3 938.1,331.3 939.2,324.8 940.3,318.6 941.4,312.8 942.5,307.4 943.6,302.3 944.7,297.4 945.8,292.6 946.9,287.9 948,283.5 949.1,279.3 950.2,275.4 951.3,271.9 952.4,268.8 953.6,266.2 954.7,264 955.8,262 956.9,260.1 958,258.2 959.1,256.5 960.2,254.8 961.3,253.3 962.4,251.9 963.5,250.8 964.6,249.8 965.7,249.1 966.8,248.7 967.9,248.5 969,248.6 970.1,248.8 971.2,249.1 972.3,249.5 973.4,250 974.5,250.6 975.6,251.2 976.8,251.8 977.9,252.4 979,253 980.1,253.6 981.2,254.3 982.3,255.1 983.4,255.9 984.5,256.8 985.6,257.6 986.7,258.5 987.8,259.3 988.9,260.1 990,261 991.1,261.8 992.2,262.7 993.3,263.6 994.4,264.5 995.5,265.6 996.6,266.7 997.7,267.9 998.8,269.2 1000,270.6 1001.1,272.2 1002.2,274.2 1003.3,276.4 1004.4,278.9 1005.5,281.6 1006.6,284.5 1007.7,287.6 1008.8,290.9 1009.9,294.3 1011,297.8 1012.1,301.3 1013.2,305.1 1014.3,309.4 1015.4,314.3 1016.5,319.5 1017.6,324.9 1018.7,330.3 1019.8,335.6 1020.9,340.4 1022.1,344.8 1023.2,348.7 1024.3,352.4 1025.4,355.9 1026.5,359.3 1027.6,362.6 1028.7,365.8 1029.8,369 1030.9,372.1 1032,375.2 1033.1,378.4 1034.2,381.4 1035.3,384.4 1036.4,387.4 1037.5,390.3 1038.6,393.2 1039.7,396.1 1040.8,398.9 1041.9,401.8 1043,404.7 1044.1,407.6 1045.3,410.6 1046.4,413.7 1047.5,416.9 1048.6,420.1 1049.7,423.3 1050.8,426.5 1051.9,429.5 1053,432.4 1054.1,435.2 1055.2,437.7 1056.3,439.9 1057.4,442.1 1058.5,444.2 1059.6,446.1 1060.7,448 1061.8,449.8 1062.9,451.6 1064,453.4 1065.1,455.1 1066.2,456.9 1067.3,458.7 1068.5,460.6 1069.6,462.5 1070.7,464.4 1071.8,466.3 1072.9,468.2 1074,470.2 1075.1,472.1 1076.2,474 1077.3,475.9 1078.4,477.8 1079.5,479.7 1080.6,481.5 1081.7,483.4 1082.8,485.2 1083.9,487.1 1085,488.9 1086.1,490.8 1087.2,492.6 1088.3,494.4 1089.4,496.1 1090.6,497.7 1091.7,499.3 1092.8,500.8 1093.9,502.2 1095,503.6 1096.1,505 1097.2,506.3 1098.3,507.5 1099.4,508.8 1100.5,510.1 1101.6,511.3 1102.7,512.6 1103.8,513.9 1104.9,515.3 1106,516.6 1107.1,518 1108.2,519.4 1109.3,520.7 1110.4,522.1 1111.5,523.4 1112.6,524.7 1113.8,526 1114.9,527.2 1116,528.4 1117.1,529.6 1118.2,530.7 1119.3,531.8 1120.4,532.9 1121.5,534 1122.6,535.1 1123.7,536.1 1124.8,537.2 1125.9,538.3 1127,539.4 1128.1,540.6 1129.2,541.8 1130.3,543 1131.4,544.2 1132.5,545.3 1133.6,546.5 1134.7,547.6 1135.9,548.6 1137,549.6 1138.1,550.5 1139.2,551.2 1140.3,552 1141.4,552.7 1142.5,553.3 1143.6,554 1144.7,554.6 1145.8,555.2 1146.9,555.8 1148,556.4 1149.1,557.1 1150.2,557.7 1151.3,558.4 1152.4,559.1 1153.5,559.9 1154.6,560.6 1155.7,561.3 1156.8,562 1157.9,562.6 1159.1,563.2 1160.2,563.8 1161.3,564.3 1162.4,564.7 1163.5,565.1 1164.6,565.5 1165.7,565.8 1166.8,566.1 1167.9,566.5 1169,566.8 1170.1,567.1 1171.2,567.5 1172.3,567.8 1173.4,568.2 1174.5,568.7 1175.6,569.2 1176.7,569.9 1177.8,570.6 1178.9,571.4 1180,572.2 1181.1,573 1182.3,573.7 1183.4,574.4 1184.5,575 1185.6,575.5 1186.7,575.8 1187.8,576.1 1188.9,576.3 1190,576.5 1191.1,576.7 1192.2,576.9 1193.3,577 1194.4,577.2 1195.5,577.4 1196.6,577.6 1197.7,577.9 1198.8,578.2 1199.9,578.5 1201,578.9 1202.1,579.3 1203.2,579.8 1204.4,580.2 1205.5,580.6 1206.6,581 1207.7,581.4 1208.8,581.8 1209.9,582.1 1211,582.4 1212.1,582.7 1213.2,582.9 1214.3,583.1 1215.4,583.3 1216.5,583.4 1217.6,583.6 1218.7,583.8 1219.8,583.9 1220.9,584.1 1222,584.2 1223.1,584.4 1224.2,584.6 1225.3,584.8 1226.4,585 1227.6,585.2 1228.7,585.5 1229.8,585.7 1230.9,586 1232,586.2 1233.1,586.5 1234.2,586.7 1235.3,586.9 1236.4,587.2 1237.5,587.4 1238.6,587.6 1239.7,587.8 1240.8,588.1 1241.9,588.3 1243,588.5 1244.1,588.7 1245.2,588.9 1246.3,589.2 1247.4,589.4 1248.5,589.6 1249.6,589.8" fill="none" stroke="#1a2d2b" stroke-width="3.5" stroke-dasharray="12.8 5.2"/><path d="M914.4 495.1l9.8 9.8M914.4 504.9l9.8 -9.8" stroke="#1a2d2b" stroke-width="4.4" stroke-linecap="round" fill="none"/><path d="M927.6 364.7l9.8 9.8M927.6 374.5l9.8 -9.8" stroke="#1a2d2b" stroke-width="4.4" stroke-linecap="round" fill="none"/><path d="M938.7 297.4l9.8 9.8M938.7 307.2l9.8 -9.8" stroke="#1a2d2b" stroke-width="4.4" stroke-linecap="round" fill="none"/><path d="M949.8 258.9l9.8 9.8M949.8 268.7l9.8 -9.8" stroke="#1a2d2b" stroke-width="4.4" stroke-linecap="round" fill="none"/><path d="M961 244.1l9.8 9.8M961 253.9l9.8 -9.8" stroke="#1a2d2b" stroke-width="4.4" stroke-linecap="round" fill="none"/><path d="M972.1 247l9.8 9.8M972.1 256.8l9.8 -9.8" stroke="#1a2d2b" stroke-width="4.4" stroke-linecap="round" fill="none"/><path d="M983.2 254.7l9.8 9.8M983.2 264.5l9.8 -9.8" stroke="#1a2d2b" stroke-width="4.4" stroke-linecap="round" fill="none"/><path d="M994.8 265.3l9.8 9.8M994.8 275.1l9.8 -9.8" stroke="#1a2d2b" stroke-width="4.4" stroke-linecap="round" fill="none"/><path d="M1006.3 293.5l9.8 9.8M1006.3 303.3l9.8 -9.8" stroke="#1a2d2b" stroke-width="4.4" stroke-linecap="round" fill="none"/><path d="M1017.8 342.3l9.8 9.8M1017.8 352.1l9.8 -9.8" stroke="#1a2d2b" stroke-width="4.4" stroke-linecap="round" fill="none"/><path d="M1029.4 376.7l9.8 9.8M1029.4 386.5l9.8 -9.8" stroke="#1a2d2b" stroke-width="4.4" stroke-linecap="round" fill="none"/><path d="M1040.9 407.3l9.8 9.8M1040.9 417.1l9.8 -9.8" stroke="#1a2d2b" stroke-width="4.4" stroke-linecap="round" fill="none"/><path d="M1052.1 436.5l9.8 9.8M1052.1 446.3l9.8 -9.8" stroke="#1a2d2b" stroke-width="4.4" stroke-linecap="round" fill="none"/><path d="M1063.3 455.3l9.8 9.8M1063.3 465.1l9.8 -9.8" stroke="#1a2d2b" stroke-width="4.4" stroke-linecap="round" fill="none"/><path d="M1074.5 474.6l9.8 9.8M1074.5 484.4l9.8 -9.8" stroke="#1a2d2b" stroke-width="4.4" stroke-linecap="round" fill="none"/><path d="M1085.7 492.9l9.8 9.8M1085.7 502.7l9.8 -9.8" stroke="#1a2d2b" stroke-width="4.4" stroke-linecap="round" fill="none"/><path d="M1096.9 506.7l9.8 9.8M1096.9 516.5l9.8 -9.8" stroke="#1a2d2b" stroke-width="4.4" stroke-linecap="round" fill="none"/><path d="M1107.1 519l9.8 9.8M1107.1 528.8l9.8 -9.8" stroke="#1a2d2b" stroke-width="4.4" stroke-linecap="round" fill="none"/><path d="M1117.2 529.7l9.8 9.8M1117.2 539.5l9.8 -9.8" stroke="#1a2d2b" stroke-width="4.4" stroke-linecap="round" fill="none"/><path d="M1127.3 540.1l9.8 9.8M1127.3 549.9l9.8 -9.8" stroke="#1a2d2b" stroke-width="4.4" stroke-linecap="round" fill="none"/><path d="M1137.5 548.4l9.8 9.8M1137.5 558.2l9.8 -9.8" stroke="#1a2d2b" stroke-width="4.4" stroke-linecap="round" fill="none"/><path d="M1147.6 554.3l9.8 9.8M1147.6 564.1l9.8 -9.8" stroke="#1a2d2b" stroke-width="4.4" stroke-linecap="round" fill="none"/><path d="M1157.7 559.9l9.8 9.8M1157.7 569.7l9.8 -9.8" stroke="#1a2d2b" stroke-width="4.4" stroke-linecap="round" fill="none"/><path d="M1167.9 563.1l9.8 9.8M1167.9 572.9l9.8 -9.8" stroke="#1a2d2b" stroke-width="4.4" stroke-linecap="round" fill="none"/><path d="M1178 569.2l9.8 9.8M1178 579l9.8 -9.8" stroke="#1a2d2b" stroke-width="4.4" stroke-linecap="round" fill="none"/><path d="M1189.1 572.3l9.8 9.8M1189.1 582.1l9.8 -9.8" stroke="#1a2d2b" stroke-width="4.4" stroke-linecap="round" fill="none"/><path d="M1200.3 575.6l9.8 9.8M1200.3 585.4l9.8 -9.8" stroke="#1a2d2b" stroke-width="4.4" stroke-linecap="round" fill="none"/><path d="M1211.4 578.5l9.8 9.8M1211.4 588.3l9.8 -9.8" stroke="#1a2d2b" stroke-width="4.4" stroke-linecap="round" fill="none"/><path d="M1222.5 580.3l9.8 9.8M1222.5 590.1l9.8 -9.8" stroke="#1a2d2b" stroke-width="4.4" stroke-linecap="round" fill="none"/><path d="M1233.6 582.7l9.8 9.8M1233.6 592.5l9.8 -9.8" stroke="#1a2d2b" stroke-width="4.4" stroke-linecap="round" fill="none"/><path d="M1244.7 584.9l9.8 9.8M1244.7 594.7l9.8 -9.8" stroke="#1a2d2b" stroke-width="4.4" stroke-linecap="round" fill="none"/><polyline points="919.3,536.7 920.4,529.4 921.5,522.3 922.6,515.5 923.7,509 924.8,502.8 925.9,497 927,491.6 928.1,486.7 929.2,482.2 930.3,478.3 931.5,474.9 932.6,471.9 933.7,469.1 934.8,466.6 935.9,464.3 937,462.1 938.1,459.9 939.2,457.9 940.3,455.8 941.4,453.6 942.5,451.3 943.6,449.1 944.7,446.9 945.8,444.7 946.9,442.6 948,440.5 949.1,438.4 950.2,436.2 951.3,433.9 952.4,431.6 953.6,429.2 954.7,426.7 955.8,424 956.9,421.2 958,418.3 959.1,415.4 960.2,412.4 961.3,409.4 962.4,406.4 963.5,403.5 964.6,400.6 965.7,397.8 966.8,395.1 967.9,392.4 969,389.7 970.1,387 971.2,384.4 972.3,381.7 973.4,379.1 974.5,376.5 975.6,373.9 976.8,371.4 977.9,368.8 979,366.3 980.1,363.7 981.2,361.1 982.3,358.5 983.4,356 984.5,353.6 985.6,351.2 986.7,349 987.8,346.9 988.9,344.8 990,342.8 991.1,340.7 992.2,338.5 993.3,336.4 994.4,334.4 995.5,332.5 996.6,330.7 997.7,329.1 998.8,327.7 1000,326.6 1001.1,325.7 1002.2,325.2 1003.3,324.9 1004.4,324.5 1005.5,324.2 1006.6,323.9 1007.7,323.7 1008.8,323.5 1009.9,323.3 1011,323.1 1012.1,323.1 1013.2,323 1014.3,323.1 1015.4,323.5 1016.5,324.1 1017.6,325 1018.7,326.1 1019.8,327.3 1020.9,328.6 1022.1,330 1023.2,331.5 1024.3,332.9 1025.4,334.3 1026.5,335.6 1027.6,337.1 1028.7,338.7 1029.8,340.4 1030.9,342.1 1032,343.9 1033.1,345.8 1034.2,347.7 1035.3,349.7 1036.4,351.7 1037.5,353.7 1038.6,355.8 1039.7,357.9 1040.8,360 1041.9,362.2 1043,364.5 1044.1,366.8 1045.3,369.2 1046.4,371.6 1047.5,374.1 1048.6,376.6 1049.7,379.1 1050.8,381.6 1051.9,384.2 1053,386.7 1054.1,389.4 1055.2,392.2 1056.3,395.1 1057.4,398 1058.5,401 1059.6,403.9 1060.7,406.8 1061.8,409.5 1062.9,412 1064,414.4 1065.1,416.4 1066.2,418.4 1067.3,420.1 1068.5,421.8 1069.6,423.5 1070.7,425 1071.8,426.5 1072.9,428 1074,429.5 1075.1,431 1076.2,432.5 1077.3,434.1 1078.4,435.6 1079.5,437.2 1080.6,438.7 1081.7,440.2 1082.8,441.7 1083.9,443.2 1085,444.7 1086.1,446.3 1087.2,447.9 1088.3,449.5 1089.4,451.1 1090.6,452.8 1091.7,454.5 1092.8,456.3 1093.9,458.1 1095,459.8 1096.1,461.6 1097.2,463.4 1098.3,465.2 1099.4,467 1100.5,468.8 1101.6,470.6 1102.7,472.5 1103.8,474.3 1104.9,476.1 1106,477.9 1107.1,479.6 1108.2,481.2 1109.3,482.7 1110.4,484.2 1111.5,485.6 1112.6,486.9 1113.8,488.2 1114.9,489.5 1116,490.8 1117.1,492.1 1118.2,493.3 1119.3,494.6 1120.4,495.9 1121.5,497.2 1122.6,498.4 1123.7,499.7 1124.8,501 1125.9,502.2 1127,503.5 1128.1,504.7 1129.2,505.9 1130.3,507.1 1131.4,508.2 1132.5,509.3 1133.6,510.4 1134.7,511.5 1135.9,512.6 1137,513.6 1138.1,514.7 1139.2,515.7 1140.3,516.7 1141.4,517.7 1142.5,518.7 1143.6,519.6 1144.7,520.6 1145.8,521.5 1146.9,522.4 1148,523.3 1149.1,524.2 1150.2,525.1 1151.3,526 1152.4,526.8 1153.5,527.7 1154.6,528.5 1155.7,529.3 1156.8,530.1 1157.9,530.9 1159.1,531.7 1160.2,532.4 1161.3,533.2 1162.4,534 1163.5,534.7 1164.6,535.5 1165.7,536.3 1166.8,537.1 1167.9,537.9 1169,538.7 1170.1,539.5 1171.2,540.3 1172.3,541.2 1173.4,542 1174.5,542.8 1175.6,543.6 1176.7,544.3 1177.8,545.1 1178.9,545.8 1180,546.6 1181.1,547.3 1182.3,548 1183.4,548.7 1184.5,549.4 1185.6,550.1 1186.7,550.8 1187.8,551.4 1188.9,552.1 1190,552.7 1191.1,553.3 1192.2,553.9 1193.3,554.5 1194.4,555.1 1195.5,555.6 1196.6,556.2 1197.7,556.8 1198.8,557.3 1199.9,557.8 1201,558.3 1202.1,558.9 1203.2,559.4 1204.4,559.9 1205.5,560.3 1206.6,560.8 1207.7,561.3 1208.8,561.8 1209.9,562.2 1211,562.7 1212.1,563.1 1213.2,563.5 1214.3,564 1215.4,564.4 1216.5,564.8 1217.6,565.2 1218.7,565.6 1219.8,566 1220.9,566.4 1222,566.8 1223.1,567.1 1224.2,567.5 1225.3,567.9 1226.4,568.2 1227.6,568.6 1228.7,569 1229.8,569.3 1230.9,569.7 1232,570 1233.1,570.4 1234.2,570.7 1235.3,571 1236.4,571.4 1237.5,571.7 1238.6,572 1239.7,572.3 1240.8,572.6 1241.9,572.9 1243,573.2 1244.1,573.5 1245.2,573.8 1246.3,574.1 1247.4,574.4 1248.5,574.6 1249.6,574.9" fill="none" stroke="#40c0b8" stroke-width="3.5" stroke-dasharray="12.8 5.2"/><rect x="913.9" y="531.3" width="10.8" height="10.8" fill="none" stroke="#40c0b8" stroke-width="4.2"/><rect x="927.1" y="466.7" width="10.8" height="10.8" fill="none" stroke="#40c0b8" stroke-width="4.2"/><rect x="938.2" y="443.6" width="10.8" height="10.8" fill="none" stroke="#40c0b8" stroke-width="4.2"/><rect x="949.3" y="421.1" width="10.8" height="10.8" fill="none" stroke="#40c0b8" stroke-width="4.2"/><rect x="960.5" y="392" width="10.8" height="10.8" fill="none" stroke="#40c0b8" stroke-width="4.2"/><rect x="971.6" y="365.4" width="10.8" height="10.8" fill="none" stroke="#40c0b8" stroke-width="4.2"/><rect x="982.7" y="340.9" width="10.8" height="10.8" fill="none" stroke="#40c0b8" stroke-width="4.2"/><rect x="994.3" y="321.5" width="10.8" height="10.8" fill="none" stroke="#40c0b8" stroke-width="4.2"/><rect x="1005.8" y="317.7" width="10.8" height="10.8" fill="none" stroke="#40c0b8" stroke-width="4.2"/><rect x="1017.3" y="325.5" width="10.8" height="10.8" fill="none" stroke="#40c0b8" stroke-width="4.2"/><rect x="1028.9" y="342.5" width="10.8" height="10.8" fill="none" stroke="#40c0b8" stroke-width="4.2"/><rect x="1040.4" y="365" width="10.8" height="10.8" fill="none" stroke="#40c0b8" stroke-width="4.2"/><rect x="1051.6" y="391.6" width="10.8" height="10.8" fill="none" stroke="#40c0b8" stroke-width="4.2"/><rect x="1062.8" y="416.1" width="10.8" height="10.8" fill="none" stroke="#40c0b8" stroke-width="4.2"/><rect x="1074" y="431.6" width="10.8" height="10.8" fill="none" stroke="#40c0b8" stroke-width="4.2"/><rect x="1085.2" y="447.5" width="10.8" height="10.8" fill="none" stroke="#40c0b8" stroke-width="4.2"/><rect x="1096.4" y="465.6" width="10.8" height="10.8" fill="none" stroke="#40c0b8" stroke-width="4.2"/><rect x="1106.6" y="480.7" width="10.8" height="10.8" fill="none" stroke="#40c0b8" stroke-width="4.2"/><rect x="1116.7" y="492.5" width="10.8" height="10.8" fill="none" stroke="#40c0b8" stroke-width="4.2"/><rect x="1126.8" y="503.6" width="10.8" height="10.8" fill="none" stroke="#40c0b8" stroke-width="4.2"/><rect x="1137" y="513.2" width="10.8" height="10.8" fill="none" stroke="#40c0b8" stroke-width="4.2"/><rect x="1147.1" y="521.5" width="10.8" height="10.8" fill="none" stroke="#40c0b8" stroke-width="4.2"/><rect x="1157.2" y="528.7" width="10.8" height="10.8" fill="none" stroke="#40c0b8" stroke-width="4.2"/><rect x="1167.4" y="536.1" width="10.8" height="10.8" fill="none" stroke="#40c0b8" stroke-width="4.2"/><rect x="1177.5" y="543" width="10.8" height="10.8" fill="none" stroke="#40c0b8" stroke-width="4.2"/><rect x="1188.6" y="549.5" width="10.8" height="10.8" fill="none" stroke="#40c0b8" stroke-width="4.2"/><rect x="1199.8" y="554.8" width="10.8" height="10.8" fill="none" stroke="#40c0b8" stroke-width="4.2"/><rect x="1210.9" y="559.3" width="10.8" height="10.8" fill="none" stroke="#40c0b8" stroke-width="4.2"/><rect x="1222" y="563.2" width="10.8" height="10.8" fill="none" stroke="#40c0b8" stroke-width="4.2"/><rect x="1233.1" y="566.6" width="10.8" height="10.8" fill="none" stroke="#40c0b8" stroke-width="4.2"/><rect x="1244.2" y="569.5" width="10.8" height="10.8" fill="none" stroke="#40c0b8" stroke-width="4.2"/><polyline points="919.3,546 920.4,538.6 921.5,531.4 922.6,524.5 923.7,517.9 924.8,511.8 925.9,506.1 927,501 928.1,496.5 929.2,492.6 930.3,489.5 931.5,487.1 932.6,485 933.7,483.1 934.8,481.5 935.9,480 937,478.6 938.1,477.3 939.2,476.1 940.3,474.8 941.4,473.5 942.5,472.2 943.6,470.8 944.7,469.5 945.8,468.3 946.9,467 948,465.8 949.1,464.6 950.2,463.4 951.3,462.2 952.4,460.9 953.6,459.6 954.7,458.2 955.8,456.8 956.9,455.3 958,453.7 959.1,452.1 960.2,450.5 961.3,448.7 962.4,447 963.5,445.2 964.6,443.3 965.7,441.3 966.8,439.4 967.9,437.3 969,435.2 970.1,433 971.2,430.7 972.3,428.4 973.4,425.9 974.5,423.4 975.6,420.9 976.8,418.3 977.9,415.6 979,412.9 980.1,410.1 981.2,407.1 982.3,404 983.4,400.9 984.5,397.7 985.6,394.4 986.7,391.2 987.8,388 988.9,385 990,381.9 991.1,378.6 992.2,375.3 993.3,372 994.4,368.8 995.5,365.7 996.6,362.7 997.7,360 998.8,357.6 1000,355.5 1001.1,353.7 1002.2,351.8 1003.3,350.1 1004.4,348.4 1005.5,346.8 1006.6,345.3 1007.7,343.9 1008.8,342.8 1009.9,341.7 1011,340.9 1012.1,340.3 1013.2,340 1014.3,339.6 1015.4,339.4 1016.5,339.1 1017.6,338.9 1018.7,338.9 1019.8,339 1020.9,339.8 1022.1,341.1 1023.2,342.3 1024.3,343.5 1025.4,344.6 1026.5,345.8 1027.6,347 1028.7,348.3 1029.8,349.6 1030.9,350.9 1032,352.2 1033.1,353.5 1034.2,354.8 1035.3,356.1 1036.4,357.5 1037.5,358.8 1038.6,360.1 1039.7,361.5 1040.8,362.8 1041.9,364.2 1043,365.6 1044.1,367 1045.3,368.5 1046.4,369.9 1047.5,371.4 1048.6,373 1049.7,374.5 1050.8,376.1 1051.9,377.7 1053,379.3 1054.1,380.9 1055.2,382.5 1056.3,384 1057.4,385.5 1058.5,387 1059.6,388.4 1060.7,389.7 1061.8,391.1 1062.9,392.6 1064,394.1 1065.1,395.7 1066.2,397.5 1067.3,399.3 1068.5,401.3 1069.6,403.3 1070.7,405.3 1071.8,407.4 1072.9,409.5 1074,411.5 1075.1,413.6 1076.2,415.6 1077.3,417.5 1078.4,419.4 1079.5,421.2 1080.6,422.9 1081.7,424.5 1082.8,426.1 1083.9,427.7 1085,429.3 1086.1,430.9 1087.2,432.5 1088.3,434.1 1089.4,435.7 1090.6,437.4 1091.7,439.1 1092.8,440.8 1093.9,442.6 1095,444.4 1096.1,446.2 1097.2,447.9 1098.3,449.7 1099.4,451.3 1100.5,452.9 1101.6,454.4 1102.7,455.8 1103.8,457.2 1104.9,458.6 1106,459.9 1107.1,461.2 1108.2,462.5 1109.3,463.8 1110.4,465 1111.5,466.3 1112.6,467.6 1113.8,468.9 1114.9,470.2 1116,471.5 1117.1,472.8 1118.2,474.1 1119.3,475.4 1120.4,476.6 1121.5,477.9 1122.6,479.2 1123.7,480.4 1124.8,481.6 1125.9,482.8 1127,484 1128.1,485.1 1129.2,486.3 1130.3,487.4 1131.4,488.6 1132.5,489.7 1133.6,490.9 1134.7,492.1 1135.9,493.2 1137,494.4 1138.1,495.6 1139.2,496.8 1140.3,498 1141.4,499.2 1142.5,500.4 1143.6,501.5 1144.7,502.7 1145.8,503.9 1146.9,505 1148,506.2 1149.1,507.4 1150.2,508.6 1151.3,509.7 1152.4,510.9 1153.5,512.1 1154.6,513.2 1155.7,514.3 1156.8,515.3 1157.9,516.3 1159.1,517.3 1160.2,518.2 1161.3,519.1 1162.4,520 1163.5,520.9 1164.6,521.7 1165.7,522.5 1166.8,523.3 1167.9,524.1 1169,524.9 1170.1,525.7 1171.2,526.5 1172.3,527.2 1173.4,527.9 1174.5,528.7 1175.6,529.4 1176.7,530.1 1177.8,530.8 1178.9,531.5 1180,532.3 1181.1,533 1182.3,533.8 1183.4,534.6 1184.5,535.3 1185.6,536.1 1186.7,536.9 1187.8,537.7 1188.9,538.5 1190,539.3 1191.1,540 1192.2,540.8 1193.3,541.5 1194.4,542.3 1195.5,543 1196.6,543.7 1197.7,544.4 1198.8,545.2 1199.9,545.9 1201,546.6 1202.1,547.2 1203.2,547.9 1204.4,548.6 1205.5,549.3 1206.6,549.9 1207.7,550.6 1208.8,551.3 1209.9,551.9 1211,552.5 1212.1,553.2 1213.2,553.8 1214.3,554.4 1215.4,554.9 1216.5,555.5 1217.6,556.1 1218.7,556.6 1219.8,557.2 1220.9,557.7 1222,558.2 1223.1,558.7 1224.2,559.2 1225.3,559.7 1226.4,560.2 1227.6,560.6 1228.7,561.1 1229.8,561.5 1230.9,562 1232,562.4 1233.1,562.8 1234.2,563.2 1235.3,563.6 1236.4,564 1237.5,564.4 1238.6,564.7 1239.7,565.1 1240.8,565.5 1241.9,565.8 1243,566.1 1244.1,566.5 1245.2,566.8 1246.3,567.1 1247.4,567.4 1248.5,567.7 1249.6,568" fill="none" stroke="#16147c" stroke-width="3.5" stroke-dasharray="12.8 5.2"/><path d="M908.5 546L925.8 534.8L925.8 557.2Z" fill="#16147c"/><path d="M916.9 546L921.8 542.9L921.8 549.1Z" fill="#fff" fill-opacity="0.55"/><path d="M921.7 485.1L939 473.9L939 496.3Z" fill="#16147c"/><path d="M930.1 485.1L935 481.9L935 488.2Z" fill="#fff" fill-opacity="0.55"/><path d="M932.8 470.8L950.1 459.6L950.1 482Z" fill="#16147c"/><path d="M941.2 470.8L946.1 467.7L946.1 473.9Z" fill="#fff" fill-opacity="0.55"/><path d="M943.9 458.1L961.2 446.9L961.2 469.3Z" fill="#16147c"/><path d="M952.4 458.1L957.2 455L957.2 461.3Z" fill="#fff" fill-opacity="0.55"/><path d="M955.1 441L972.4 429.8L972.4 452.2Z" fill="#16147c"/><path d="M963.5 441L968.3 437.9L968.3 444.2Z" fill="#fff" fill-opacity="0.55"/><path d="M966.2 417.7L983.5 406.5L983.5 428.9Z" fill="#16147c"/><path d="M974.6 417.7L979.5 414.5L979.5 420.8Z" fill="#fff" fill-opacity="0.55"/><path d="M977.3 387.1L994.6 375.9L994.6 398.3Z" fill="#16147c"/><path d="M985.7 387.1L990.6 384L990.6 390.3Z" fill="#fff" fill-opacity="0.55"/><path d="M988.9 356L1006.2 344.8L1006.2 367.2Z" fill="#16147c"/><path d="M997.3 356L1002.1 352.9L1002.1 359.1Z" fill="#fff" fill-opacity="0.55"/><path d="M1000.4 340.8L1017.7 329.6L1017.7 352Z" fill="#16147c"/><path d="M1008.8 340.8L1013.7 337.7L1013.7 343.9Z" fill="#fff" fill-opacity="0.55"/><path d="M1011.9 341.9L1029.2 330.7L1029.2 353.1Z" fill="#16147c"/><path d="M1020.4 341.9L1025.2 338.7L1025.2 345Z" fill="#fff" fill-opacity="0.55"/><path d="M1023.5 354.9L1040.8 343.7L1040.8 366.1Z" fill="#16147c"/><path d="M1031.9 354.9L1036.7 351.8L1036.7 358.1Z" fill="#fff" fill-opacity="0.55"/><path d="M1035 369.2L1052.3 358L1052.3 380.4Z" fill="#16147c"/><path d="M1043.4 369.2L1048.3 366.1L1048.3 372.3Z" fill="#fff" fill-opacity="0.55"/><path d="M1046.2 385L1063.5 373.8L1063.5 396.2Z" fill="#16147c"/><path d="M1054.6 385L1059.5 381.9L1059.5 388.1Z" fill="#fff" fill-opacity="0.55"/><path d="M1057.4 400.9L1074.7 389.7L1074.7 412.1Z" fill="#16147c"/><path d="M1065.8 400.9L1070.7 397.7L1070.7 404Z" fill="#fff" fill-opacity="0.55"/><path d="M1068.6 421L1085.9 409.8L1085.9 432.2Z" fill="#16147c"/><path d="M1077 421L1081.9 417.9L1081.9 424.2Z" fill="#fff" fill-opacity="0.55"/><path d="M1079.8 437.5L1097.1 426.3L1097.1 448.7Z" fill="#16147c"/><path d="M1088.2 437.5L1093.1 434.3L1093.1 440.6Z" fill="#fff" fill-opacity="0.55"/><path d="M1091 454.7L1108.3 443.5L1108.3 465.9Z" fill="#16147c"/><path d="M1099.4 454.7L1104.3 451.5L1104.3 457.8Z" fill="#fff" fill-opacity="0.55"/><path d="M1101.2 466.8L1118.5 455.6L1118.5 478Z" fill="#16147c"/><path d="M1109.6 466.8L1114.4 463.7L1114.4 469.9Z" fill="#fff" fill-opacity="0.55"/><path d="M1111.3 478.6L1128.6 467.4L1128.6 489.8Z" fill="#16147c"/><path d="M1119.7 478.6L1124.6 475.5L1124.6 481.7Z" fill="#fff" fill-opacity="0.55"/><path d="M1121.4 489.4L1138.7 478.2L1138.7 500.6Z" fill="#16147c"/><path d="M1129.9 489.4L1134.7 486.3L1134.7 492.6Z" fill="#fff" fill-opacity="0.55"/><path d="M1131.6 500.2L1148.9 489L1148.9 511.4Z" fill="#16147c"/><path d="M1140 500.2L1144.8 497.1L1144.8 503.4Z" fill="#fff" fill-opacity="0.55"/><path d="M1141.7 511L1159 499.8L1159 522.2Z" fill="#16147c"/><path d="M1150.1 511L1155 507.9L1155 514.1Z" fill="#fff" fill-opacity="0.55"/><path d="M1151.8 520.2L1169.1 509L1169.1 531.4Z" fill="#16147c"/><path d="M1160.3 520.2L1165.1 517.1L1165.1 523.4Z" fill="#fff" fill-opacity="0.55"/><path d="M1162 527.5L1179.3 516.3L1179.3 538.7Z" fill="#16147c"/><path d="M1170.4 527.5L1175.2 524.4L1175.2 530.6Z" fill="#fff" fill-opacity="0.55"/><path d="M1172.1 534.2L1189.4 523L1189.4 545.4Z" fill="#16147c"/><path d="M1180.5 534.2L1185.4 531.1L1185.4 537.4Z" fill="#fff" fill-opacity="0.55"/><path d="M1183.2 542L1200.5 530.8L1200.5 553.2Z" fill="#16147c"/><path d="M1191.6 542L1196.5 538.9L1196.5 545.1Z" fill="#fff" fill-opacity="0.55"/><path d="M1194.4 549.1L1211.7 537.9L1211.7 560.3Z" fill="#16147c"/><path d="M1202.8 549.1L1207.6 546L1207.6 552.2Z" fill="#fff" fill-opacity="0.55"/><path d="M1205.5 555.4L1222.8 544.2L1222.8 566.6Z" fill="#16147c"/><path d="M1213.9 555.4L1218.7 552.3L1218.7 558.5Z" fill="#fff" fill-opacity="0.55"/><path d="M1216.6 560.6L1233.9 549.4L1233.9 571.8Z" fill="#16147c"/><path d="M1225 560.6L1229.9 557.4L1229.9 563.7Z" fill="#fff" fill-opacity="0.55"/><path d="M1227.7 564.7L1245 553.5L1245 575.9Z" fill="#16147c"/><path d="M1236.1 564.7L1241 561.6L1241 567.9Z" fill="#fff" fill-opacity="0.55"/><path d="M1238.8 568L1256.1 556.8L1256.1 579.2Z" fill="#16147c"/><path d="M1247.3 568L1252.1 564.9L1252.1 571.1Z" fill="#fff" fill-opacity="0.55"/></g>
<text x="919" y="631" font-size="26.5" text-anchor="middle">0</text>
<text x="1013" y="631" font-size="26.5" text-anchor="middle">500</text>
<text x="1107.6" y="631" font-size="26.5" text-anchor="middle">1000</text>
<text x="1201.9" y="631" font-size="26.5" text-anchor="middle">1500</text>
<text x="912.4" y="611.2" font-size="26.5" text-anchor="end">0</text>
<text x="912.4" y="518" font-size="26.5" text-anchor="end">0.05</text>
<text x="912.4" y="424.9" font-size="26.5" text-anchor="end">0.1</text>
<text x="912.4" y="331.8" font-size="26.5" text-anchor="end">0.15</text>
<text x="912.4" y="238.6" font-size="26.5" text-anchor="end">0.2</text>
<text x="912.4" y="145.4" font-size="26.5" text-anchor="end">0.25</text>
<text x="1089" y="24.5" font-size="27.5" text-anchor="middle">CC-CV (4C)</text>
<text x="1087.5" y="667.3" font-size="34" text-anchor="middle" textLength="165.5" lengthAdjust="spacingAndGlyphs">Time (Sec)</text>
<text transform="translate(28.3,319.4) rotate(-90)" font-size="33.5" text-anchor="middle" textLength="509.5" lengthAdjust="spacingAndGlyphs">-Dimensionless tangential stress</text>
<line x1="284.5" y1="95.5" x2="353" y2="95.5" stroke="#c8202e" stroke-width="3.5" stroke-dasharray="12.3 5.9 3.3 5.9"/>
<text x="366" y="98.7" font-size="27.5">P<tspan font-size="22" dy="13.8">i</tspan></text>
<line x1="284.5" y1="145.5" x2="353" y2="145.5" stroke="#bf1cc0" stroke-width="3.5" stroke-dasharray="12.8 5.2"/>
<circle cx="320.4" cy="145.5" r="5.5" fill="none" stroke="#bf1cc0" stroke-width="4.4"/>
<text x="366" y="148.7" font-size="27.5">P<tspan font-size="22" dy="13.8">1</tspan></text>
<line x1="284.5" y1="195.0" x2="353" y2="195.0" stroke="#1a2d2b" stroke-width="3.5" stroke-dasharray="12.8 5.2"/>
<path d="M315.5 190.1l9.8 9.8M315.5 199.9l9.8 -9.8" stroke="#1a2d2b" stroke-width="4.4" stroke-linecap="round" fill="none"/>
<text x="366" y="198.2" font-size="27.5">P<tspan font-size="22" dy="13.8">2</tspan></text>
<line x1="284.5" y1="243.5" x2="353" y2="243.5" stroke="#40c0b8" stroke-width="3.5" stroke-dasharray="12.8 5.2"/>
<rect x="315" y="238.1" width="10.8" height="10.8" fill="none" stroke="#40c0b8" stroke-width="4.2"/>
<text x="366" y="246.7" font-size="27.5">P<tspan font-size="22" dy="13.8">3</tspan></text>
<line x1="284.5" y1="293.0" x2="353" y2="293.0" stroke="#16147c" stroke-width="3.5" stroke-dasharray="12.8 5.2"/>
<path d="M309.6 293L326.9 281.8L326.9 304.2Z" fill="#16147c"/><path d="M318 293L322.9 289.9L322.9 296.1Z" fill="#fff" fill-opacity="0.55"/>
<text x="366" y="296.2" font-size="27.5">P<tspan font-size="22" dy="13.8">4</tspan></text>
</svg></body></html>
